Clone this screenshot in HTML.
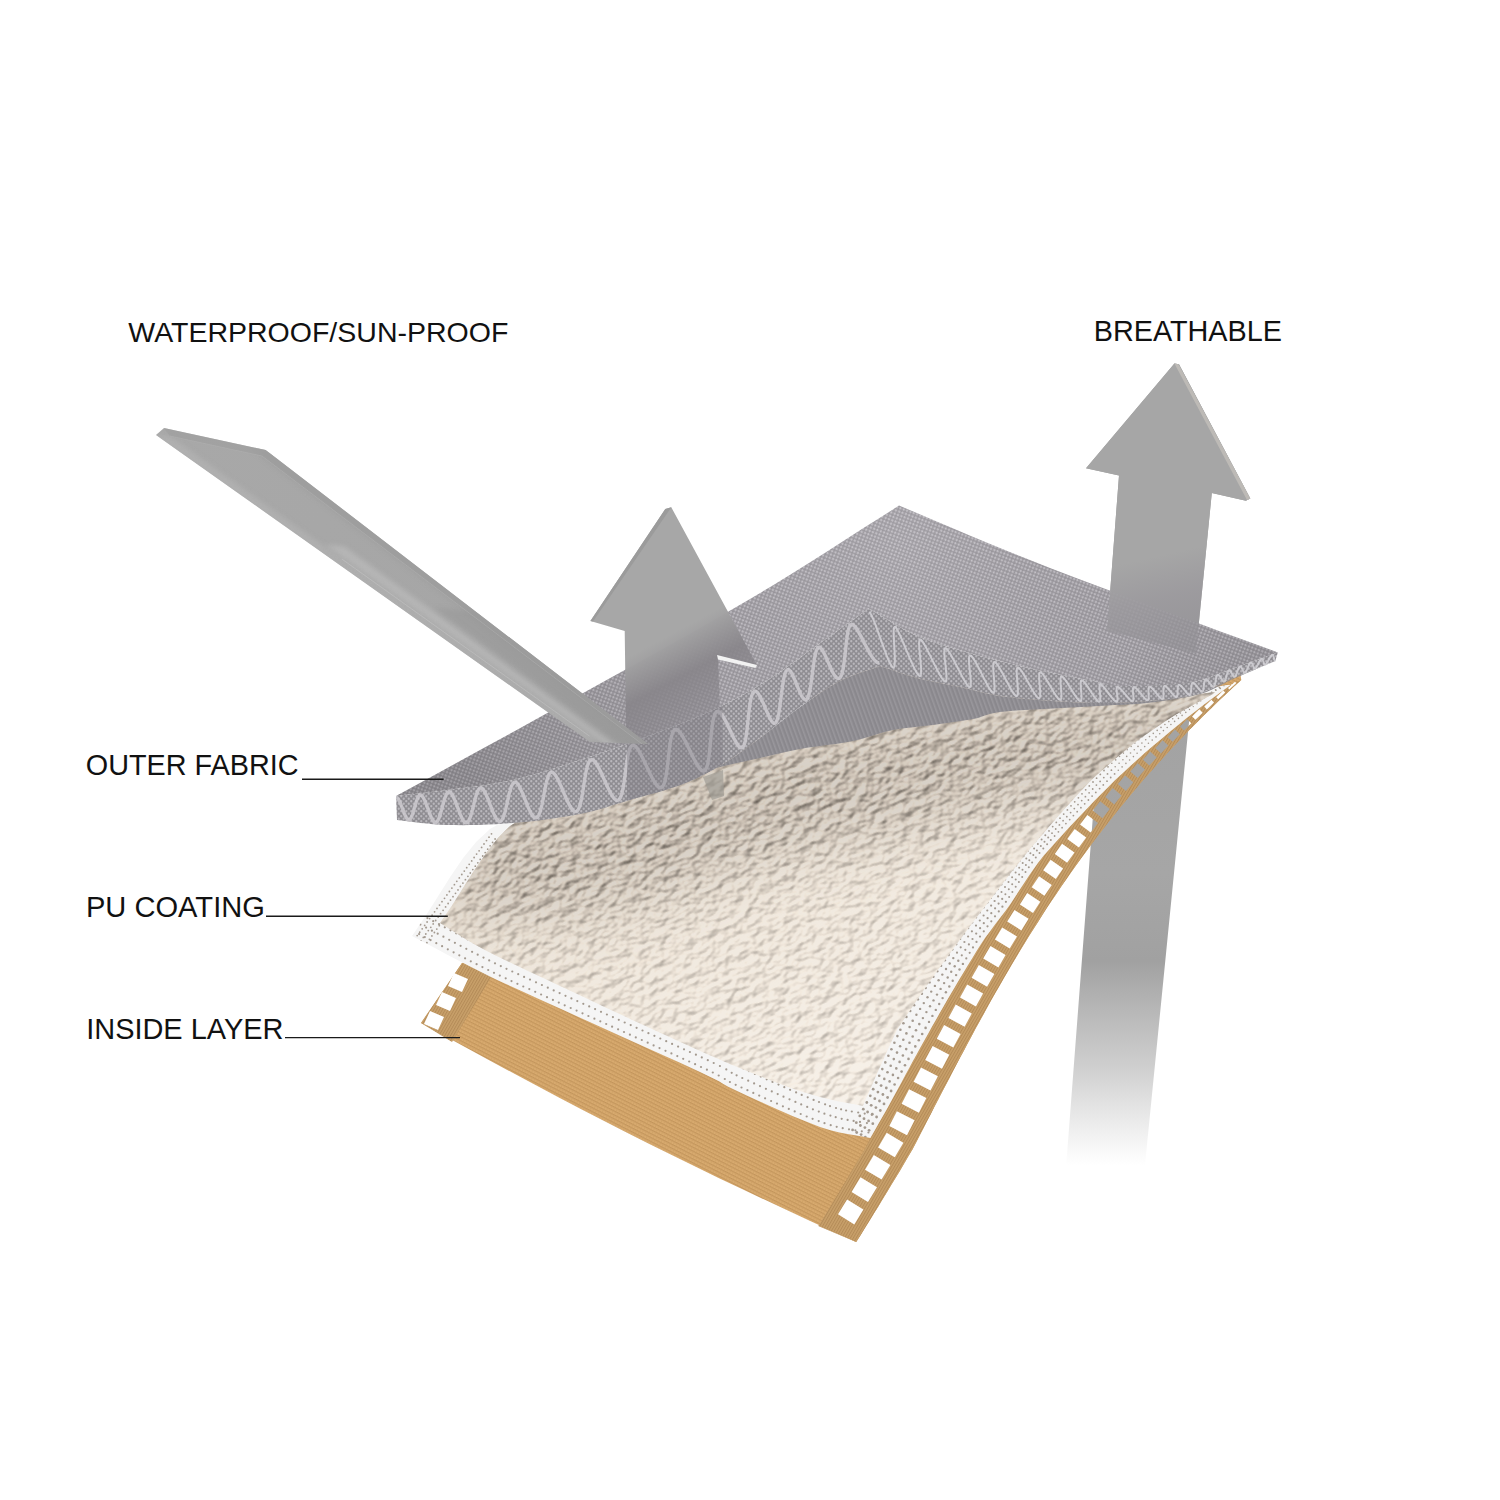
<!DOCTYPE html>
<html><head><meta charset="utf-8"><style>
html,body{margin:0;padding:0;background:#fff;width:1500px;height:1500px;overflow:hidden}
body{position:relative;font-family:"Liberation Sans",sans-serif}
</style></head><body>
<svg width="1500" height="1500" viewBox="0 0 1500 1500" style="position:absolute;left:0;top:0">
<defs>
<linearGradient id="gShaft" gradientUnits="userSpaceOnUse" x1="0" y1="680" x2="0" y2="1165">
 <stop offset="0" stop-color="#a2a2a2"/>
 <stop offset="0.4" stop-color="#a6a6a6"/>
 <stop offset="0.58" stop-color="#a1a1a1"/>
 <stop offset="0.8" stop-color="#a8a8a8" stop-opacity="0.55"/>
 <stop offset="1" stop-color="#b0b0b0" stop-opacity="0"/>
</linearGradient>
<linearGradient id="gBigUp" gradientUnits="userSpaceOnUse" x1="1140" y1="560" x2="1160" y2="650">
 <stop offset="0" stop-color="#a6a6a6" stop-opacity="1"/>
 <stop offset="0.45" stop-color="#9c9a9e" stop-opacity="0.88"/>
 <stop offset="1" stop-color="#918f94" stop-opacity="0.6"/>
</linearGradient>
<linearGradient id="gSmallUp" gradientUnits="userSpaceOnUse" x1="660" y1="640" x2="700" y2="715">
 <stop offset="0" stop-color="#a7a7a7" stop-opacity="1"/>
 <stop offset="0.5" stop-color="#88858a" stop-opacity="0.92"/>
 <stop offset="1" stop-color="#858288" stop-opacity="0.5"/>
</linearGradient>
<linearGradient id="gBar" gradientUnits="userSpaceOnUse" x1="160" y1="430" x2="640" y2="745">
 <stop offset="0" stop-color="#a8a8a8"/>
 <stop offset="0.65" stop-color="#a6a6a6"/>
 <stop offset="1" stop-color="#a0a0a0"/>
</linearGradient>
<linearGradient id="gBeigeShade" gradientUnits="userSpaceOnUse" x1="0" y1="700" x2="0" y2="860">
 <stop offset="0" stop-color="#5a5248" stop-opacity="0.25"/>
 <stop offset="1" stop-color="#5a5248" stop-opacity="0"/>
</linearGradient>
<radialGradient id="gTopLight" gradientUnits="userSpaceOnUse" cx="900" cy="545" r="490">
 <stop offset="0" stop-color="#ffffff" stop-opacity="0.06"/>
 <stop offset="0.5" stop-color="#000000" stop-opacity="0.03"/>
 <stop offset="1" stop-color="#000000" stop-opacity="0.16"/>
</radialGradient>
<pattern id="pDots" patternUnits="userSpaceOnUse" width="5" height="5" patternTransform="rotate(-25)">
 <rect width="5" height="5" fill="#9a979d"/>
 <circle cx="1.25" cy="1.25" r="1.15" fill="#c6c3c9"/>
 <circle cx="3.75" cy="3.75" r="1.15" fill="#c6c3c9"/>
</pattern>
<pattern id="pDotsSide" patternUnits="userSpaceOnUse" width="5" height="5">
 <rect width="5" height="5" fill="#8f8d92"/>
 <circle cx="1.25" cy="1.25" r="1.15" fill="#b9b7bc"/>
 <circle cx="3.75" cy="3.75" r="1.15" fill="#b9b7bc"/>
</pattern>
<pattern id="pUnder" patternUnits="userSpaceOnUse" width="4" height="4" patternTransform="rotate(-20)">
 <rect width="4" height="4" fill="#8a888d"/>
 <rect x="0" y="0" width="1.6" height="4" fill="#99979c"/>
</pattern>
<pattern id="pMesh" patternUnits="userSpaceOnUse" width="5" height="5" patternTransform="rotate(-28)">
 <rect width="5" height="5" fill="#fcfcfc"/>
 <circle cx="2.5" cy="2.5" r="0.75" fill="#a89a8c"/>
</pattern>
<pattern id="pWeave" patternUnits="userSpaceOnUse" width="3" height="3.5" patternTransform="rotate(27)">
 <rect width="3" height="3.5" fill="#d8aa6f"/>
 <rect x="0" y="0" width="3" height="1.2" fill="#c3955c"/>
 <rect x="0" y="0" width="1" height="3.5" fill="#cc9e63" opacity="0.6"/>
</pattern>
<pattern id="pStrip" patternUnits="userSpaceOnUse" width="2.5" height="2.5" patternTransform="rotate(30)">
 <rect width="2.5" height="2.5" fill="#c8a06a"/>
 <rect x="0" y="0" width="1" height="2.5" fill="#b48b58"/>
</pattern>
<filter id="fTex" x="-200" y="-200" width="2000" height="2000" filterUnits="userSpaceOnUse" color-interpolation-filters="sRGB">
 <feTurbulence type="fractalNoise" baseFrequency="0.095 0.13" numOctaves="2" seed="11" result="n"/>
 <feDiffuseLighting in="n" surfaceScale="3.2" diffuseConstant="1.1" lighting-color="#ffffff" result="lit">
  <feDistantLight azimuth="250" elevation="50"/>
 </feDiffuseLighting>
 <feColorMatrix in="lit" type="matrix" values="0.34 0 0 0 0.70  0 0.34 0 0 0.69  0 0 0.34 0 0.68  0 0 0 1 0" result="lit2"/>
 <feBlend in="SourceGraphic" in2="lit2" mode="multiply" result="m"/>
 <feComposite in="m" in2="SourceAlpha" operator="in"/>
</filter>
<linearGradient id="gBeigeV" gradientUnits="userSpaceOnUse" x1="0" y1="690" x2="0" y2="1110">
 <stop offset="0" stop-color="#dcd2c5"/>
 <stop offset="0.3" stop-color="#eee6db"/>
 <stop offset="1" stop-color="#f7f1e9"/>
</linearGradient>
<mask id="mTan" maskUnits="userSpaceOnUse" x="0" y="0" width="1500" height="1500"><rect width="1500" height="1500" fill="#fff"/><path d="M863.4,1209.6 L854.3,1224.4 L838,1214.3 L847.1,1199.5 Z" fill="#000"/><path d="M877,1187.2 L868,1202 L851.6,1191.9 L860.5,1177.2 Z" fill="#000"/><path d="M890.4,1164.9 L881.6,1179.6 L865,1169.7 L873.8,1155 Z" fill="#000"/><path d="M903.4,1142.7 L894.8,1157.3 L878.1,1147.5 L886.7,1132.8 Z" fill="#000"/><path d="M914.6,1120.3 L907,1135.2 L889.3,1126.1 L896.9,1111.2 Z" fill="#000"/><path d="M926.4,1098.1 L918.9,1112.7 L901.6,1103.8 L909.1,1089.2 Z" fill="#000"/><path d="M937.9,1076.3 L930.5,1090.5 L913.6,1081.7 L921,1067.5 Z" fill="#000"/><path d="M949.3,1054.8 L942,1068.8 L925.2,1060 L932.6,1046.1 Z" fill="#000"/><path d="M960.6,1033.9 L953.3,1047.5 L936.8,1038.8 L944.1,1025.1 Z" fill="#000"/><path d="M971.8,1013.5 L964.6,1026.8 L948.4,1018 L955.7,1004.6 Z" fill="#000"/><path d="M983.1,993.5 L975.9,1006.5 L960,997.6 L967.2,984.6 Z" fill="#000"/><path d="M994.4,974 L987.1,986.7 L971.6,977.8 L978.8,965.1 Z" fill="#000"/><path d="M1005.6,955.1 L998.4,967.4 L983.2,958.5 L990.5,946.1 Z" fill="#000"/><path d="M1017,936.6 L1009.7,948.6 L994.9,939.6 L1002.2,927.6 Z" fill="#000"/><path d="M1028.6,918.8 L1021.3,930.4 L1007.2,921.6 L1014.5,910 Z" fill="#000"/><path d="M1040.3,901.7 L1033,912.9 L1019.9,904.4 L1027.2,893.1 Z" fill="#000"/><path d="M1051.8,884.9 L1044.4,895.8 L1031.7,887.2 L1039,876.3 Z" fill="#000"/><path d="M1063.1,868.5 L1055.8,879 L1043.2,870.3 L1050.6,859.7 Z" fill="#000"/><path d="M1074.5,852.6 L1067.1,862.8 L1054.8,853.9 L1062.1,843.7 Z" fill="#000"/><path d="M1086.2,837.5 L1078.9,847.5 L1067.3,838.9 L1074.7,829 Z" fill="#000"/><path d="M1098,823 L1090.7,832.6 L1080,824.5 L1087.4,814.9 Z" fill="#000"/><path d="M1109.8,809 L1102.4,818.3 L1092.7,810.6 L1100.1,801.3 Z" fill="#000"/><path d="M1121.6,795.4 L1114.2,804.4 L1105.3,797.1 L1112.7,788.1 Z" fill="#000"/><path d="M1133.3,782.3 L1125.9,791 L1117.8,784.1 L1125.2,775.4 Z" fill="#000"/><path d="M1145,769.6 L1137.7,778 L1130.3,771.6 L1137.7,763.2 Z" fill="#000"/><path d="M1156.7,757.4 L1149.4,765.5 L1142.9,759.7 L1150.2,751.5 Z" fill="#000"/><path d="M1168.3,745.6 L1161,753.4 L1155.3,748.2 L1162.6,740.3 Z" fill="#000"/><path d="M1179.9,734.2 L1172.6,741.8 L1167.7,737.2 L1175,729.6 Z" fill="#000"/><path d="M1191.3,723.3 L1184.1,730.6 L1180,726.6 L1187.2,719.3 Z" fill="#000"/><path d="M1202.7,712.7 L1195.5,719.8 L1192.1,716.4 L1199.3,709.3 Z" fill="#000"/><path d="M1214,702.5 L1206.9,709.4 L1204.3,706.6 L1211.4,699.7 Z" fill="#000"/><path d="M1225.2,692.6 L1218.2,699.3 L1216.2,697.2 L1223.3,690.6 Z" fill="#000"/><path d="M1236.3,683 L1229.3,689.5 L1228,688.1 L1235,681.7 Z" fill="#000"/><path d="M454,973 L468,979 L462,992 L448,986 Z" fill="#000"/><path d="M442,992 L456,998 L450,1011 L436,1005 Z" fill="#000"/><path d="M430,1011 L444,1017 L438,1030 L424,1024 Z" fill="#000"/></mask><clipPath id="cMesh"><path d="M412,936 L424.9,917.1 L437.6,897.1 L450.2,877 L463.1,858.1 L476.3,841.7 L490,829 L504.2,820.9 L518.6,816.6 L533.4,814.8 L548.6,814 L564.1,812.9 L580,810 L596.3,805.8 L613.1,801.5 L630.2,796.8 L647.7,791.5 L665.3,785.3 L683,778 L701.4,769 L720.7,758.6 L740.1,747.2 L759.1,735.6 L777,724.3 L793,714 L806.4,703.8 L817.4,693.1 L827.3,682.8 L837.3,673.6 L848.4,666.4 L862,662 L877.6,661.2 L894.3,663.6 L912.1,667.9 L931.4,673.1 L952.3,678.2 L975,682 L1001.1,685 L1030.8,688.1 L1062.1,691 L1093.1,693.5 L1121.7,695.2 L1146,696 L1165.3,695.5 L1181.2,693.9 L1194.7,691.6 L1207,689 L1219.4,686.3 L1232.9,684 L1231.8,684 L1222.4,690.9 L1213.2,697.7 L1204.1,704.6 L1195.2,711.4 L1186.4,718.3 L1177.9,725.2 L1169.6,732 L1161.4,738.9 L1153.2,745.7 L1145.3,752.6 L1137.6,759.5 L1130.1,766.3 L1122.6,773.2 L1115.2,780.1 L1108.3,786.9 L1101.5,793.8 L1094.7,800.6 L1088.1,807.5 L1081.5,814.4 L1075,821.2 L1068.6,828.1 L1062.3,834.9 L1056.1,841.8 L1049.9,848.7 L1043.8,855.5 L1038.3,862.4 L1033.5,869.2 L1028.8,876.1 L1024.2,883 L1019.7,889.8 L1015.2,896.7 L1010.8,903.5 L1005.8,910.4 L1000.6,917.3 L995.4,924.1 L990.3,931 L985.2,937.8 L980.6,944.7 L976.3,951.6 L972.1,958.4 L967.9,965.3 L963.7,972.2 L959.6,979 L955.5,985.9 L951.5,992.7 L947.5,999.6 L943.5,1006.5 L939.6,1013.3 L935.7,1020.2 L931.8,1027 L928,1033.9 L924.2,1040.8 L920.4,1047.6 L916.6,1054.5 L912.8,1061.3 L909.1,1068.2 L905.4,1075.1 L901.7,1081.9 L898,1088.8 L894.3,1095.6 L890.5,1102.5 L886.7,1109.4 L882.8,1116.2 L878.9,1123.1 L875,1129.9 L871.1,1136.8 L870.4,1138 L862.4,1136.5 L854.9,1135.3 L847.4,1134.1 L839.4,1132.6 L830.4,1130.3 L820,1127 L807.3,1122.1 L792.4,1115.9 L776.5,1108.9 L760.9,1101.9 L746.7,1095.4 L735,1090 L727.7,1086.5 L724.2,1084.6 L722.1,1083.2 L719,1081.3 L712.4,1077.9 L700,1072 L679.5,1062.6 L652.6,1050.4 L622.1,1036.7 L591.3,1022.8 L563.3,1010.1 L541,1000 L525.2,992.8 L513.7,987.5 L504.8,983.5 L497.2,979.9 L489.4,976.2 L480,971.5 L469.1,966 L457.9,960.2 L446.4,954.2 L434.9,948.1 L423.4,942 L412,936 Z"/></clipPath><clipPath id="cBeige"><path d="M440,923 L451.7,905.9 L463.3,887.6 L475,869.3 L486.7,852.2 L498.3,837.4 L510,826 L521.3,819.1 L532.1,815.9 L542.9,814.9 L554.2,814.9 L566.4,814.4 L580,812 L596,807.6 L614.2,802.2 L633.4,796.4 L652.1,790.4 L669.1,784.8 L683,780 L693,776.2 L699.9,773.3 L705.1,770.8 L709.8,768 L715.3,764.6 L723,760 L732.9,754.1 L744.1,747.4 L756.2,740 L768.6,732.1 L781,724.1 L793,716 L804,707 L814.4,696.6 L824.8,686 L835.8,676.3 L848,668.6 L862,664 L877.6,663.2 L894.3,665.6 L912.1,669.9 L931.4,675.1 L952.3,680.2 L975,684 L1001.3,686.9 L1031.5,689.9 L1063.2,692.6 L1094.4,695 L1122.7,696.9 L1146,698 L1163.4,698.2 L1176.6,697.5 L1186.9,696.2 L1195.8,694.7 L1204.7,693.2 L1215,692 L1213,694 L1200.3,701 L1187.6,708 L1175.1,714.9 L1164.3,721.9 L1154,728.9 L1143.7,735.9 L1134.2,742.9 L1125.9,749.9 L1117.7,756.8 L1109.6,763.8 L1101.6,770.8 L1093.8,777.8 L1086.8,784.8 L1080.2,791.8 L1073.8,798.7 L1067.5,805.7 L1061.2,812.7 L1055.1,819.7 L1049,826.7 L1043.1,833.7 L1037.2,840.6 L1031.3,847.6 L1025.6,854.6 L1020,861.6 L1014.4,868.6 L1008.9,875.6 L1003.5,882.5 L998.1,889.5 L992.8,896.5 L987.4,903.5 L982,910.5 L976.6,917.5 L971.3,924.4 L966.1,931.4 L960.9,938.4 L955.7,945.4 L950.6,952.4 L945.6,959.4 L940.6,966.3 L935.6,973.3 L930.7,980.3 L925.8,987.3 L921,994.3 L916.2,1001.3 L911.5,1008.2 L906.7,1015.2 L902.1,1022.2 L897.4,1029.2 L894,1036.2 L890.8,1043.2 L887.6,1050.1 L884.5,1057.1 L881.4,1064.1 L878.2,1071.1 L875.1,1078.1 L872.1,1085.1 L869,1092 L865.9,1099 L862.9,1106 L855.8,1104.6 L848.7,1103.2 L841.6,1101.9 L834.4,1100.4 L827.3,1098.8 L820,1097 L813,1095 L806.3,1093 L799.5,1090.9 L792.3,1088.4 L784.3,1085.5 L775,1082 L765,1078.2 L754.6,1074.1 L743.4,1069.6 L730.9,1064.4 L716.6,1058.3 L700,1051 L679.7,1041.8 L655.8,1030.8 L630.1,1018.9 L604.4,1006.9 L580.4,995.6 L560,986 L543.1,978.1 L528.4,971.2 L515.4,965.1 L503.8,959.5 L493.1,954.2 L483,949 L473.9,944 L466.1,939.5 L459.4,935.3 L453.1,931.3 L446.8,927.2 L440,923 Z"/></clipPath><filter id="fBlur30" x="-30%" y="-60%" width="160%" height="220%"><feGaussianBlur stdDeviation="28"/></filter><mask id="mShade" maskUnits="userSpaceOnUse" x="0" y="0" width="1500" height="1500"><path d="M437.5,804.6 L446.7,805 L456.8,805.2 L467.5,805.1 L478.8,804.9 L490.2,804.4 L501.7,803.8 L513,803 L524.3,802 L535.9,800.7 L547.5,799.2 L558.9,797.6 L569.8,795.9 L580,794 L589.3,792 L597.8,789.8 L605.9,787.4 L613.7,785 L621.7,782.5 L630,780 L638.8,777.5 L647.9,775 L657.1,772.4 L666.2,769.7 L674.9,766.9 L683,764 L690,756 L690.5,761 L694.9,754.5 L697.4,757.9 L699.6,753 L704.4,751.5 L709.3,750 L714.4,748.5 L720,747 L726.1,745.5 L732.6,744 L739.4,742.5 L746.3,741 L753.2,739.5 L760,738 L766.5,736.5 L772.9,735 L779.2,733.4 L785.7,731.9 L792.6,730.4 L800,729 L808.2,727.6 L817.2,726.4 L826.5,725.1 L835.8,723.9 L844.8,722.5 L853,721 L860.4,719.3 L867.3,717.3 L873.8,715.3 L880.1,713.3 L886.5,711.5 L893,710 L899.7,708.8 L906.3,707.9 L913,707.2 L919.7,706.5 L926.3,705.8 L933,705 L939.8,704.1 L946.8,703.1 L953.8,702.1 L960.6,701.1 L967.1,700.1 L973,699 L978,697.9 L982,696.6 L985.7,695.3 L989.6,694.1 L994.1,693 L1000,692 L1007.3,691.2 L1015.7,690.6 L1024.8,690 L1034.3,689.5 L1043.8,689 L1053,688.5 L1062.1,688 L1071.4,687.4 L1080.8,686.9 L1090,686.4 L1098.8,686 L1107,685.5 L1114.3,685.1 L1120.9,684.9 L1127.1,684.6 L1133.2,684.3 L1139.7,683.8 L1147,683 L1155.3,681.9 L1164.4,680.7 L1173.9,679.3 L1183.3,677.7 L1192.2,675.9 L1200,674 L1206.5,671.9 L1212.1,669.6 L1217.2,667.1 L1222.1,664.4 L1227.2,661.7 L1233,659 L1239.5,656.2 L1246.4,653.2 L1253.6,650.2 L1260.9,647.1 L1268.1,644 L1275.3,641 L1300.3,756 L1293.1,759 L1285.9,762.1 L1278.6,765.2 L1271.4,768.2 L1264.5,771.2 L1258,774 L1252.2,776.7 L1247.1,779.4 L1242.2,782.1 L1237.1,784.6 L1231.5,786.9 L1225,789 L1217.2,790.9 L1208.3,792.7 L1198.9,794.3 L1189.4,795.7 L1180.3,796.9 L1172,798 L1164.7,798.8 L1158.2,799.3 L1152.1,799.6 L1145.9,799.9 L1139.3,800.1 L1132,800.5 L1123.8,801 L1115,801.4 L1105.8,801.9 L1096.4,802.4 L1087.1,803 L1078,803.5 L1068.8,804 L1059.3,804.5 L1049.8,805 L1040.7,805.6 L1032.3,806.2 L1025,807 L1019.1,808 L1014.6,809.1 L1010.7,810.3 L1007,811.6 L1003,812.9 L998,814 L992.1,815.1 L985.6,816.1 L978.8,817.1 L971.8,818.1 L964.8,819.1 L958,820 L951.3,820.8 L944.7,821.5 L938,822.2 L931.3,822.9 L924.7,823.8 L918,825 L911.5,826.5 L905.1,828.3 L898.8,830.3 L892.3,832.3 L885.4,834.3 L878,836 L869.8,837.5 L860.8,838.9 L851.5,840.1 L842.2,841.4 L833.2,842.6 L825,844 L817.6,845.4 L810.7,846.9 L804.2,848.4 L797.9,850 L791.5,851.5 L785,853 L778.2,854.5 L771.3,856 L764.4,857.5 L757.6,859 L751.1,860.5 L745,862 L739.4,863.5 L734.3,865 L729.4,866.5 L724.6,868 L722.4,872.9 L719.9,869.5 L715.5,876 L715,871 L708,879 L699.9,881.9 L691.2,884.7 L682.1,887.4 L672.9,890 L663.8,892.5 L655,895 L646.7,897.5 L638.7,900 L630.9,902.4 L622.8,904.8 L614.3,907 L605,909 L594.8,910.9 L583.9,912.6 L572.5,914.2 L560.9,915.7 L549.3,917 L538,918 L526.7,918.8 L515.2,919.4 L503.8,919.9 L492.5,920.1 L481.8,920.2 L471.7,920 L462.5,919.6 Z" fill="#fff" filter="url(#fBlur30)"/></mask><filter id="fTex2" x="-200" y="-200" width="2000" height="2000" filterUnits="userSpaceOnUse" color-interpolation-filters="sRGB">
 <feTurbulence type="fractalNoise" baseFrequency="0.095 0.13" numOctaves="2" seed="11" result="n"/>
 <feDiffuseLighting in="n" surfaceScale="3.2" diffuseConstant="1.1" lighting-color="#ffffff" result="lit">
  <feDistantLight azimuth="250" elevation="50"/>
 </feDiffuseLighting>
 <feColorMatrix in="lit" type="matrix" values="0.62 0 0 0 0.42  0 0.62 0 0 0.40  0 0 0.62 0 0.38  0 0 0 1 0" result="lit2"/>
 <feBlend in="SourceGraphic" in2="lit2" mode="multiply" result="m"/>
 <feComposite in="m" in2="SourceAlpha" operator="in"/>
</filter><clipPath id="cFront"><path d="M0,0 L1500,0 L1500,652 L1277.8,652.5 L1272.2,654.5 L1266.6,656.5 L1261,658.6 L1255.4,660.6 L1249.8,662.6 L1244.2,664.6 L1238.6,666.6 L1233,668.5 L1227.5,670.5 L1222.3,672.5 L1217.2,674.6 L1212,676.6 L1206.6,678.5 L1200.9,680.2 L1194.7,681.7 L1188,683 L1180.3,684 L1171.7,684.8 L1162.5,685.3 L1153.1,685.8 L1143.8,686 L1134.9,686.1 L1126.9,686.1 L1120,686 L1114.6,685.7 L1110.3,685.3 L1107,684.8 L1104,684.1 L1101.2,683.2 L1098.1,682.3 L1094.3,681.3 L1089.4,680.3 L1083.5,679.2 L1076.9,677.9 L1069.8,676.5 L1062.4,675.1 L1054.7,673.6 L1047,672 L1039.4,670.4 L1032,668.8 L1024.8,667.2 L1017.7,665.5 L1010.5,663.8 L1003.4,662.1 L996.2,660.3 L989,658.4 L981.9,656.5 L974.7,654.5 L967.5,652.4 L960.2,650.4 L952.8,648.2 L945.5,646 L938.2,643.7 L931,641.3 L924.1,638.7 L917.3,635.9 L910.8,632.9 L904.5,629.7 L898.4,626.3 L892.4,622.8 L886.5,619.2 L880.6,615.6 L874.6,612.1 L868.6,608.6 L862.6,612.9 L856.6,617.2 L850.6,621.5 L844.6,625.8 L838.6,630.1 L832.5,634.4 L826.3,638.8 L820,643.3 L813.6,647.9 L807,652.6 L800.4,657.5 L793.7,662.3 L786.9,667.1 L780.2,671.9 L773.4,676.4 L766.7,680.7 L760.1,684.8 L753.6,688.7 L747.1,692.4 L740.7,696 L734.1,699.6 L727.3,703 L720.3,706.5 L713,710 L705.3,713.5 L697.3,716.9 L689.1,720.4 L680.7,723.7 L672.1,727.1 L663.6,730.3 L655.1,733.5 L646.7,736.7 L638.4,739.8 L630.1,742.8 L621.7,745.8 L613.4,748.8 L605.1,751.7 L596.7,754.5 L588.4,757.3 L580,760 L571.6,762.7 L563.3,765.5 L554.9,768.2 L546.5,770.8 L538.1,773.4 L529.7,775.8 L521.3,778 L513,780 L504.6,781.8 L496,783.3 L487.4,784.7 L478.8,785.9 L470.4,787 L462.2,788 L454.2,789 L446.7,790 L439.6,790.9 L432.9,791.8 L426.5,792.5 L420.4,793.2 L414.3,793.9 L408.3,794.6 L402.2,795.3 L396,796 L0,796 Z"/></clipPath><clipPath id="cBand"><path d="M396,796 L402.2,795.3 L408.3,794.6 L414.3,793.9 L420.4,793.2 L426.5,792.5 L432.9,791.8 L439.6,790.9 L446.7,790 L454.2,789 L462.2,788 L470.4,787 L478.8,785.9 L487.4,784.7 L496,783.3 L504.6,781.8 L513,780 L521.3,778 L529.7,775.8 L538.1,773.4 L546.5,770.8 L554.9,768.2 L563.3,765.5 L571.6,762.7 L580,760 L588.4,757.3 L596.7,754.5 L605.1,751.7 L613.4,748.8 L621.7,745.8 L630.1,742.8 L638.4,739.8 L646.7,736.7 L655.1,733.5 L663.6,730.3 L672.1,727.1 L680.7,723.7 L689.1,720.4 L697.3,716.9 L705.3,713.5 L713,710 L720.3,706.5 L727.3,703 L734.1,699.6 L740.7,696 L747.1,692.4 L753.6,688.7 L760.1,684.8 L766.7,680.7 L773.4,676.4 L780.2,671.9 L786.9,667.1 L793.7,662.3 L800.4,657.5 L807,652.6 L813.6,647.9 L820,643.3 L826.3,638.8 L832.5,634.4 L838.6,630.1 L844.6,625.8 L850.6,621.5 L856.6,617.2 L862.6,612.9 L868.6,608.6 L874.6,612.1 L880.6,615.6 L886.5,619.2 L892.4,622.8 L898.4,626.3 L904.5,629.7 L910.8,632.9 L917.3,635.9 L924.1,638.7 L931,641.3 L938.2,643.7 L945.5,646 L952.8,648.2 L960.2,650.4 L967.5,652.4 L974.7,654.5 L981.9,656.5 L989,658.4 L996.2,660.3 L1003.4,662.1 L1010.5,663.8 L1017.7,665.5 L1024.8,667.2 L1032,668.8 L1039.4,670.4 L1047,672 L1054.7,673.6 L1062.4,675.1 L1069.8,676.5 L1076.9,677.9 L1083.5,679.2 L1089.4,680.3 L1094.3,681.3 L1098.1,682.3 L1101.2,683.2 L1104,684.1 L1107,684.8 L1110.3,685.3 L1114.6,685.7 L1120,686 L1126.9,686.1 L1134.9,686.1 L1143.8,686 L1153.1,685.8 L1162.5,685.3 L1171.7,684.8 L1180.3,684 L1188,683 L1194.7,681.7 L1200.9,680.2 L1206.6,678.5 L1212,676.6 L1217.2,674.6 L1222.3,672.5 L1227.5,670.5 L1233,668.5 L1238.6,666.6 L1244.2,664.6 L1249.8,662.6 L1255.4,660.6 L1261,658.6 L1266.6,656.5 L1272.2,654.5 L1277.8,652.5 L1275.3,661 L1269.9,663.1 L1264.5,665.3 L1259,667.5 L1253.6,669.6 L1248.2,671.8 L1242.9,673.9 L1237.8,676 L1233,678 L1228.5,680 L1224.3,682.1 L1220.3,684.1 L1216.4,686.1 L1212.5,688 L1208.5,689.9 L1204.4,691.5 L1200,693 L1195.4,694.3 L1190.8,695.4 L1186.1,696.4 L1181.2,697.2 L1176.3,698 L1171.1,698.7 L1165.7,699.4 L1160,700 L1154,700.6 L1147.7,701.1 L1141.1,701.6 L1134.4,702.1 L1127.5,702.4 L1120.6,702.7 L1113.8,702.9 L1107,703 L1100.3,703 L1093.5,702.9 L1086.8,702.7 L1080,702.5 L1073.2,702.2 L1066.5,701.8 L1059.7,701.4 L1053,701 L1046.2,700.5 L1039.4,700.1 L1032.5,699.5 L1025.6,698.9 L1018.9,698.3 L1012.3,697.6 L1006,696.8 L1000,696 L994.4,695.1 L989.1,694 L984.2,692.9 L979.4,691.8 L974.6,690.6 L969.9,689.3 L965,688.2 L960,687 L954.8,685.9 L949.4,684.8 L943.9,683.8 L938.5,682.7 L933,681.6 L927.7,680.5 L922.4,679.3 L917.3,678 L912.4,676.6 L907.6,675.2 L902.9,673.7 L898.3,672.2 L893.8,670.6 L889.2,669.1 L884.6,667.5 L880,666 L875,667.8 L870,669.5 L865,671.1 L860,672.8 L855,674.6 L850,676.5 L845,678.6 L840,681 L835,683.7 L830,686.6 L825,689.7 L820,693 L815,696.4 L810,699.9 L805,703.4 L800,707 L795,710.7 L789.9,714.5 L784.9,718.5 L779.8,722.5 L774.8,726.5 L769.8,730.5 L764.9,734.3 L760,738 L755.3,741.5 L750.6,745 L746,748.4 L741.5,751.7 L737,754.9 L732.4,758 L727.7,761.1 L723,764 L718.2,766.8 L713.5,769.5 L708.8,772.1 L704,774.6 L699.1,777.1 L694,779.4 L688.6,781.7 L683,784 L677,786.2 L670.6,788.3 L663.9,790.4 L657.1,792.4 L650.2,794.3 L643.3,796.2 L636.6,798.1 L630,800 L623.7,801.9 L617.7,803.8 L611.8,805.6 L605.9,807.4 L599.9,809.2 L593.6,810.9 L587,812.5 L580,814 L572.4,815.4 L564.4,816.8 L556.1,818 L547.5,819.2 L538.8,820.4 L530.1,821.4 L521.5,822.2 L513,823 L504.6,823.6 L496,824.2 L487.4,824.6 L478.8,824.9 L470.3,825.1 L462.1,825.2 L454.2,825.1 L446.7,825 L439.7,824.7 L433.1,824.2 L426.8,823.6 L420.8,822.9 L414.9,822.2 L409,821.4 L403.1,820.7 L397,820 Z"/></clipPath><clipPath id="cBig"><path d="M1000,300 L1400,300 L1400,657 L1195.3,653.6 L1109.5,631.6 L1000,630 Z"/></clipPath><filter id="fBlur3" x="-50%" y="-50%" width="200%" height="200%"><feGaussianBlur stdDeviation="2.5"/></filter><clipPath id="cBar"><path d="M164,428 L265.6,450 L648,744 L590,742 L156,435 Z"/></clipPath></defs>
<rect width="1500" height="1500" fill="#ffffff"/>
<path d="M1174.4,363.6 L1179,364.3 L1250.3,498.5 L1245.9,500.7 L1211.8,493 L1143,1185 L1066,1168 L1119,475.4 L1086,468.3 Z" fill="url(#gShaft)"/>
<g mask="url(#mTan)"><path d="M462,963 L421,1023 L443.9,1035.5 L466.8,1048 L489.7,1060.4 L512.6,1072.8 L535.5,1085 L558.4,1097.2 L581.3,1109.2 L604.2,1121 L627.1,1132.7 L649.9,1144.2 L672.8,1155.6 L695.7,1166.8 L718.6,1177.9 L741.5,1188.8 L764.4,1199.6 L787.3,1210.3 L810.2,1220.9 L833.1,1231.5 L856,1242 L856.2,1242 L860.7,1234.9 L865.1,1227.8 L869.5,1220.7 L873.9,1213.5 L878.3,1206.4 L882.6,1199.3 L886.9,1192.2 L891.2,1185.1 L895.5,1178 L899.8,1170.9 L904,1163.7 L908.2,1156.6 L912.4,1149.5 L916.1,1142.4 L919.8,1135.3 L923.4,1128.2 L927.1,1121.1 L930.8,1113.9 L934.4,1106.8 L938.1,1099.7 L941.8,1092.6 L945.5,1085.5 L949.2,1078.4 L952.9,1071.3 L956.6,1064.2 L960.4,1057 L964.2,1049.9 L968,1042.8 L971.8,1035.7 L975.6,1028.6 L979.5,1021.5 L983.4,1014.4 L987.3,1007.2 L991.3,1000.1 L995.3,993 L999.4,985.9 L1003.5,978.8 L1007.6,971.7 L1011.8,964.6 L1016,957.4 L1020.3,950.3 L1024.6,943.2 L1029,936.1 L1033.5,929 L1038,921.9 L1042.5,914.8 L1047.1,907.6 L1051.8,900.5 L1056.6,893.4 L1061.4,886.3 L1066.3,879.2 L1071.3,872.1 L1076.3,865 L1081.5,857.8 L1086.7,850.7 L1092,843.6 L1097.3,836.5 L1102.8,829.4 L1108.4,822.3 L1114,815.2 L1119.7,808.1 L1125.6,800.9 L1131.5,793.8 L1137.5,786.7 L1143.6,779.6 L1149.9,772.5 L1156.2,765.4 L1162.7,758.3 L1169.2,751.1 L1175.9,744 L1182.7,736.9 L1189.5,729.8 L1196.6,722.7 L1203.7,715.6 L1211,708.5 L1218.3,701.3 L1225.9,694.2 L1233.5,687.1 L1241.3,680 L1240,672 L900,820 L600,905 Z" fill="url(#pWeave)"/><path d="M1241.3,680 L1233.5,687.1 L1225.9,694.2 L1218.3,701.3 L1211,708.5 L1203.7,715.6 L1196.6,722.7 L1189.5,729.8 L1182.7,736.9 L1175.9,744 L1169.2,751.1 L1162.7,758.3 L1156.2,765.4 L1149.9,772.5 L1143.6,779.6 L1137.5,786.7 L1131.5,793.8 L1125.6,800.9 L1119.7,808.1 L1114,815.2 L1108.4,822.3 L1102.8,829.4 L1097.3,836.5 L1092,843.6 L1086.7,850.7 L1081.5,857.8 L1076.3,865 L1071.3,872.1 L1066.3,879.2 L1061.4,886.3 L1056.6,893.4 L1051.8,900.5 L1047.1,907.6 L1042.5,914.8 L1038,921.9 L1033.5,929 L1029,936.1 L1024.6,943.2 L1020.3,950.3 L1016,957.4 L1011.8,964.6 L1007.6,971.7 L1003.5,978.8 L999.4,985.9 L995.3,993 L991.3,1000.1 L987.3,1007.2 L983.4,1014.4 L979.5,1021.5 L975.6,1028.6 L971.8,1035.7 L968,1042.8 L964.2,1049.9 L960.4,1057 L956.6,1064.2 L952.9,1071.3 L949.2,1078.4 L945.5,1085.5 L941.8,1092.6 L938.1,1099.7 L934.4,1106.8 L930.8,1113.9 L927.1,1121.1 L923.4,1128.2 L919.8,1135.3 L916.1,1142.4 L912.4,1149.5 L908.2,1156.6 L904,1163.7 L899.8,1170.9 L895.5,1178 L891.2,1185.1 L886.9,1192.2 L882.6,1199.3 L878.3,1206.4 L873.9,1213.5 L869.5,1220.7 L865.1,1227.8 L860.7,1234.9 L856.2,1242 L818.2,1226 L822.5,1219.1 L826.7,1212.3 L830.9,1205.4 L835.1,1198.6 L839.2,1191.7 L843.4,1184.8 L847.5,1178 L851.6,1171.1 L855.7,1164.3 L859.8,1157.4 L863.9,1150.5 L867.5,1143.7 L871.1,1136.8 L875,1129.9 L878.9,1123.1 L882.8,1116.2 L886.7,1109.4 L890.5,1102.5 L894.3,1095.6 L898,1088.8 L901.7,1081.9 L905.4,1075.1 L909.1,1068.2 L912.8,1061.3 L916.6,1054.5 L920.4,1047.6 L924.2,1040.8 L928,1033.9 L931.8,1027 L935.7,1020.2 L939.6,1013.3 L943.5,1006.5 L947.5,999.6 L951.5,992.7 L955.5,985.9 L959.6,979 L963.7,972.2 L967.9,965.3 L972.1,958.4 L976.3,951.6 L980.6,944.7 L985.2,937.8 L990.3,931 L995.4,924.1 L1000.6,917.3 L1005.8,910.4 L1010.8,903.5 L1015.2,896.7 L1019.7,889.8 L1024.2,883 L1028.8,876.1 L1033.5,869.2 L1038.3,862.4 L1043.8,855.5 L1049.9,848.7 L1056.1,841.8 L1062.3,834.9 L1068.6,828.1 L1075,821.2 L1081.5,814.4 L1088.1,807.5 L1094.7,800.6 L1101.5,793.8 L1108.3,786.9 L1115.2,780.1 L1122.6,773.2 L1130.1,766.3 L1137.6,759.5 L1145.3,752.6 L1153.2,745.7 L1161.4,738.9 L1169.6,732 L1177.9,725.2 L1186.4,718.3 L1195.2,711.4 L1204.1,704.6 L1213.2,697.7 L1222.4,690.9 L1231.8,684 Z" fill="url(#pStrip)"/><path d="M462,963 L492,976 L452,1042 L421,1023 Z" fill="url(#pStrip)"/></g>
<path d="M412,936 L424.9,917.1 L437.6,897.1 L450.2,877 L463.1,858.1 L476.3,841.7 L490,829 L504.2,820.9 L518.6,816.6 L533.4,814.8 L548.6,814 L564.1,812.9 L580,810 L596.3,805.8 L613.1,801.5 L630.2,796.8 L647.7,791.5 L665.3,785.3 L683,778 L701.4,769 L720.7,758.6 L740.1,747.2 L759.1,735.6 L777,724.3 L793,714 L806.4,703.8 L817.4,693.1 L827.3,682.8 L837.3,673.6 L848.4,666.4 L862,662 L877.6,661.2 L894.3,663.6 L912.1,667.9 L931.4,673.1 L952.3,678.2 L975,682 L1001.1,685 L1030.8,688.1 L1062.1,691 L1093.1,693.5 L1121.7,695.2 L1146,696 L1165.3,695.5 L1181.2,693.9 L1194.7,691.6 L1207,689 L1219.4,686.3 L1232.9,684 L1231.8,684 L1222.4,690.9 L1213.2,697.7 L1204.1,704.6 L1195.2,711.4 L1186.4,718.3 L1177.9,725.2 L1169.6,732 L1161.4,738.9 L1153.2,745.7 L1145.3,752.6 L1137.6,759.5 L1130.1,766.3 L1122.6,773.2 L1115.2,780.1 L1108.3,786.9 L1101.5,793.8 L1094.7,800.6 L1088.1,807.5 L1081.5,814.4 L1075,821.2 L1068.6,828.1 L1062.3,834.9 L1056.1,841.8 L1049.9,848.7 L1043.8,855.5 L1038.3,862.4 L1033.5,869.2 L1028.8,876.1 L1024.2,883 L1019.7,889.8 L1015.2,896.7 L1010.8,903.5 L1005.8,910.4 L1000.6,917.3 L995.4,924.1 L990.3,931 L985.2,937.8 L980.6,944.7 L976.3,951.6 L972.1,958.4 L967.9,965.3 L963.7,972.2 L959.6,979 L955.5,985.9 L951.5,992.7 L947.5,999.6 L943.5,1006.5 L939.6,1013.3 L935.7,1020.2 L931.8,1027 L928,1033.9 L924.2,1040.8 L920.4,1047.6 L916.6,1054.5 L912.8,1061.3 L909.1,1068.2 L905.4,1075.1 L901.7,1081.9 L898,1088.8 L894.3,1095.6 L890.5,1102.5 L886.7,1109.4 L882.8,1116.2 L878.9,1123.1 L875,1129.9 L871.1,1136.8 L870.4,1138 L862.4,1136.5 L854.9,1135.3 L847.4,1134.1 L839.4,1132.6 L830.4,1130.3 L820,1127 L807.3,1122.1 L792.4,1115.9 L776.5,1108.9 L760.9,1101.9 L746.7,1095.4 L735,1090 L727.7,1086.5 L724.2,1084.6 L722.1,1083.2 L719,1081.3 L712.4,1077.9 L700,1072 L679.5,1062.6 L652.6,1050.4 L622.1,1036.7 L591.3,1022.8 L563.3,1010.1 L541,1000 L525.2,992.8 L513.7,987.5 L504.8,983.5 L497.2,979.9 L489.4,976.2 L480,971.5 L469.1,966 L457.9,960.2 L446.4,954.2 L434.9,948.1 L423.4,942 L412,936 Z" fill="#f5f5f5"/>
<g clip-path="url(#cMesh)" fill="#8f8376" opacity="0.8"><circle cx="1226.4" cy="681.7" r="0.7"/><circle cx="1222.8" cy="684.4" r="0.7"/><circle cx="1219.1" cy="687.1" r="0.7"/><circle cx="1215.4" cy="689.8" r="0.7"/><circle cx="1211.8" cy="692.6" r="0.7"/><circle cx="1208.1" cy="695.3" r="0.7"/><circle cx="1204.4" cy="698.1" r="0.7"/><circle cx="1200.7" cy="700.9" r="0.7"/><circle cx="1197" cy="703.8" r="0.7"/><circle cx="1193.3" cy="706.6" r="0.7"/><circle cx="1189.5" cy="709.5" r="0.7"/><circle cx="1185.8" cy="712.4" r="0.8"/><circle cx="1182.1" cy="715.4" r="0.8"/><circle cx="1178.4" cy="718.4" r="0.8"/><circle cx="1174.6" cy="721.4" r="0.8"/><circle cx="1170.9" cy="724.5" r="0.8"/><circle cx="1167.2" cy="727.5" r="0.8"/><circle cx="1163.4" cy="730.6" r="0.8"/><circle cx="1159.7" cy="733.8" r="0.8"/><circle cx="1156" cy="736.9" r="0.8"/><circle cx="1152.2" cy="740.1" r="0.8"/><circle cx="1148.4" cy="743.3" r="0.8"/><circle cx="1144.7" cy="746.6" r="0.8"/><circle cx="1140.9" cy="749.9" r="0.8"/><circle cx="1137.1" cy="753.2" r="0.8"/><circle cx="1133.4" cy="756.6" r="0.8"/><circle cx="1129.6" cy="760" r="0.8"/><circle cx="1125.9" cy="763.4" r="0.8"/><circle cx="1122.1" cy="766.9" r="0.8"/><circle cx="1118.3" cy="770.3" r="0.8"/><circle cx="1114.6" cy="773.9" r="0.9"/><circle cx="1110.7" cy="777.5" r="0.9"/><circle cx="1107" cy="781.2" r="0.9"/><circle cx="1103.3" cy="784.9" r="0.9"/><circle cx="1099.6" cy="788.6" r="0.9"/><circle cx="1095.8" cy="792.4" r="0.9"/><circle cx="1092.1" cy="796.1" r="0.9"/><circle cx="1088.4" cy="800" r="0.9"/><circle cx="1084.7" cy="803.8" r="0.9"/><circle cx="1080.9" cy="807.7" r="0.9"/><circle cx="1077.2" cy="811.7" r="0.9"/><circle cx="1073.4" cy="815.6" r="0.9"/><circle cx="1069.7" cy="819.6" r="0.9"/><circle cx="1065.9" cy="823.6" r="0.9"/><circle cx="1062.1" cy="827.7" r="0.9"/><circle cx="1058.4" cy="831.8" r="0.9"/><circle cx="1054.6" cy="836" r="0.9"/><circle cx="1050.8" cy="840.1" r="1"/><circle cx="1047.1" cy="844.3" r="1"/><circle cx="1043.3" cy="848.6" r="1"/><circle cx="1039.5" cy="853" r="1"/><circle cx="1035.8" cy="857.5" r="1"/><circle cx="1032.1" cy="862.4" r="1"/><circle cx="1028.8" cy="867.2" r="1"/><circle cx="1025.5" cy="872.1" r="1"/><circle cx="1022.2" cy="877" r="1"/><circle cx="1018.9" cy="881.9" r="1"/><circle cx="1015.7" cy="886.8" r="1"/><circle cx="1012.4" cy="891.9" r="1"/><circle cx="1009.1" cy="896.9" r="1"/><circle cx="1005.9" cy="901.8" r="1.1"/><circle cx="1002.4" cy="906.7" r="1.1"/><circle cx="998.8" cy="911.4" r="1.1"/><circle cx="995" cy="916.3" r="1.1"/><circle cx="991.3" cy="921.3" r="1.1"/><circle cx="987.5" cy="926.3" r="1.1"/><circle cx="983.8" cy="931.3" r="1.1"/><circle cx="980" cy="936.6" r="1.1"/><circle cx="976.5" cy="941.9" r="1.1"/><circle cx="973" cy="947.4" r="1.1"/><circle cx="969.7" cy="952.8" r="1.1"/><circle cx="966.3" cy="958.4" r="1.1"/><circle cx="962.9" cy="963.9" r="1.2"/><circle cx="959.5" cy="969.5" r="1.2"/><circle cx="956.1" cy="975.1" r="1.2"/><circle cx="952.7" cy="980.8" r="1.2"/><circle cx="949.3" cy="986.5" r="1.2"/><circle cx="945.9" cy="992.3" r="1.2"/><circle cx="942.6" cy="998.1" r="1.2"/><circle cx="939.2" cy="1004" r="1.2"/><circle cx="935.8" cy="1009.9" r="1.2"/><circle cx="932.4" cy="1015.9" r="1.2"/><circle cx="929" cy="1021.9" r="1.2"/><circle cx="925.6" cy="1027.9" r="1.3"/><circle cx="922.2" cy="1034" r="1.3"/><circle cx="918.8" cy="1040.2" r="1.3"/><circle cx="915.3" cy="1046.4" r="1.3"/><circle cx="911.9" cy="1052.6" r="1.3"/><circle cx="908.5" cy="1058.9" r="1.3"/><circle cx="905" cy="1065.2" r="1.3"/><circle cx="901.6" cy="1071.6" r="1.3"/><circle cx="898.1" cy="1078" r="1.3"/><circle cx="894.6" cy="1084.5" r="1.3"/><circle cx="891.1" cy="1091" r="1.4"/><circle cx="887.6" cy="1097.5" r="1.4"/><circle cx="884" cy="1103.9" r="1.4"/><circle cx="880.3" cy="1110.5" r="1.4"/><circle cx="876.6" cy="1117" r="1.4"/><circle cx="872.8" cy="1123.7" r="1.4"/><circle cx="869.1" cy="1130.3" r="1.4"/><circle cx="865.3" cy="1137.2" r="1.4"/><circle cx="861.6" cy="1144.1" r="1.4"/><circle cx="858" cy="1150.7" r="1.5"/><circle cx="854" cy="1157.4" r="1.5"/><circle cx="849.9" cy="1164.2" r="1.5"/><circle cx="845.9" cy="1171" r="1.5"/><circle cx="841.7" cy="1177.9" r="1.5"/><circle cx="837.6" cy="1184.7" r="1.5"/><circle cx="833.4" cy="1191.7" r="1.5"/><circle cx="829.2" cy="1198.6" r="1.5"/><circle cx="824.9" cy="1205.6" r="1.5"/><circle cx="820.6" cy="1212.6" r="1.6"/><circle cx="816.3" cy="1219.7" r="1.6"/><circle cx="1226.8" cy="682" r="0.7"/><circle cx="1223.3" cy="684.8" r="0.7"/><circle cx="1219.6" cy="687.5" r="0.7"/><circle cx="1215.7" cy="689.9" r="0.7"/><circle cx="1211.9" cy="692.4" r="0.7"/><circle cx="1207.9" cy="694.9" r="0.7"/><circle cx="1204" cy="697.3" r="0.7"/><circle cx="1200.1" cy="699.8" r="0.7"/><circle cx="1196.2" cy="702.4" r="0.7"/><circle cx="1192.2" cy="704.9" r="0.7"/><circle cx="1188.2" cy="707.5" r="0.7"/><circle cx="1184.3" cy="710.1" r="0.8"/><circle cx="1180.4" cy="713" r="0.8"/><circle cx="1176.5" cy="715.8" r="0.8"/><circle cx="1172.7" cy="718.7" r="0.8"/><circle cx="1168.8" cy="721.6" r="0.8"/><circle cx="1164.9" cy="724.5" r="0.8"/><circle cx="1161" cy="727.4" r="0.8"/><circle cx="1157.2" cy="730.4" r="0.8"/><circle cx="1153.3" cy="733.4" r="0.8"/><circle cx="1149.5" cy="736.6" r="0.8"/><circle cx="1145.7" cy="739.8" r="0.8"/><circle cx="1141.9" cy="743.1" r="0.8"/><circle cx="1138" cy="746.4" r="0.8"/><circle cx="1134.3" cy="749.7" r="0.8"/><circle cx="1130.5" cy="753" r="0.8"/><circle cx="1126.7" cy="756.4" r="0.8"/><circle cx="1122.9" cy="759.8" r="0.8"/><circle cx="1119.1" cy="763.2" r="0.8"/><circle cx="1115.2" cy="766.7" r="0.8"/><circle cx="1111.4" cy="770.2" r="0.9"/><circle cx="1107.5" cy="773.9" r="0.9"/><circle cx="1103.8" cy="777.6" r="0.9"/><circle cx="1100.1" cy="781.4" r="0.9"/><circle cx="1096.4" cy="785.1" r="0.9"/><circle cx="1092.7" cy="789" r="0.9"/><circle cx="1089.1" cy="792.8" r="0.9"/><circle cx="1085.4" cy="796.7" r="0.9"/><circle cx="1081.7" cy="800.6" r="0.9"/><circle cx="1078" cy="804.6" r="0.9"/><circle cx="1074.3" cy="808.6" r="0.9"/><circle cx="1070.6" cy="812.6" r="0.9"/><circle cx="1066.8" cy="816.7" r="0.9"/><circle cx="1063.1" cy="820.7" r="0.9"/><circle cx="1059.4" cy="824.9" r="0.9"/><circle cx="1055.7" cy="829" r="0.9"/><circle cx="1052" cy="833.2" r="0.9"/><circle cx="1048.2" cy="837.5" r="1"/><circle cx="1044.5" cy="841.7" r="1"/><circle cx="1040.8" cy="846.1" r="1"/><circle cx="1036.9" cy="850.6" r="1"/><circle cx="1033.3" cy="855.1" r="1"/><circle cx="1029.3" cy="860.2" r="1"/><circle cx="1025.9" cy="864.9" r="1"/><circle cx="1022.5" cy="869.7" r="1"/><circle cx="1019.1" cy="874.5" r="1"/><circle cx="1015.7" cy="879.4" r="1"/><circle cx="1012.2" cy="884.3" r="1"/><circle cx="1008.8" cy="889.2" r="1"/><circle cx="1005.4" cy="894.3" r="1"/><circle cx="1002.2" cy="898.9" r="1.1"/><circle cx="998.6" cy="903.6" r="1.1"/><circle cx="995.1" cy="908.3" r="1.1"/><circle cx="991.3" cy="913.2" r="1.1"/><circle cx="987.6" cy="918.2" r="1.1"/><circle cx="983.8" cy="923.2" r="1.1"/><circle cx="980.1" cy="928.2" r="1.1"/><circle cx="976.2" cy="933.6" r="1.1"/><circle cx="972.5" cy="939" r="1.1"/><circle cx="968.9" cy="944.4" r="1.1"/><circle cx="965.3" cy="949.8" r="1.1"/><circle cx="961.8" cy="955.3" r="1.1"/><circle cx="958.3" cy="960.8" r="1.2"/><circle cx="954.7" cy="966.3" r="1.2"/><circle cx="951.2" cy="971.8" r="1.2"/><circle cx="947.7" cy="977.5" r="1.2"/><circle cx="944.1" cy="983.1" r="1.2"/><circle cx="940.6" cy="988.9" r="1.2"/><circle cx="937" cy="994.6" r="1.2"/><circle cx="933.5" cy="1000.4" r="1.2"/><circle cx="930" cy="1006.2" r="1.2"/><circle cx="926.4" cy="1012.1" r="1.2"/><circle cx="922.9" cy="1018.1" r="1.2"/><circle cx="919.3" cy="1024.1" r="1.3"/><circle cx="916" cy="1030.3" r="1.3"/><circle cx="912.7" cy="1036.5" r="1.3"/><circle cx="909.5" cy="1042.8" r="1.3"/><circle cx="906.2" cy="1049.1" r="1.3"/><circle cx="902.9" cy="1055.5" r="1.3"/><circle cx="899.6" cy="1061.9" r="1.3"/><circle cx="896.3" cy="1068.4" r="1.3"/><circle cx="892.9" cy="1074.9" r="1.3"/><circle cx="889.6" cy="1081.4" r="1.3"/><circle cx="886.3" cy="1088" r="1.4"/><circle cx="882.9" cy="1094.5" r="1.4"/><circle cx="879.5" cy="1101" r="1.4"/><circle cx="875.9" cy="1107.6" r="1.4"/><circle cx="872.3" cy="1114.2" r="1.4"/><circle cx="868.6" cy="1120.9" r="1.4"/><circle cx="864.9" cy="1127.6" r="1.4"/><circle cx="861.1" cy="1134.6" r="1.4"/><circle cx="857.4" cy="1141.5" r="1.4"/><circle cx="854" cy="1147.9" r="1.5"/><circle cx="850" cy="1154.6" r="1.5"/><circle cx="845.9" cy="1161.4" r="1.5"/><circle cx="841.9" cy="1168.2" r="1.5"/><circle cx="837.8" cy="1175.1" r="1.5"/><circle cx="833.6" cy="1181.9" r="1.5"/><circle cx="829.4" cy="1188.8" r="1.5"/><circle cx="825.2" cy="1195.8" r="1.5"/><circle cx="821" cy="1202.8" r="1.5"/><circle cx="816.7" cy="1209.8" r="1.6"/><circle cx="812.3" cy="1216.8" r="1.6"/><circle cx="1226.9" cy="682.4" r="0.7"/><circle cx="1223.5" cy="685.4" r="0.7"/><circle cx="1219.8" cy="688.1" r="0.7"/><circle cx="1215.7" cy="690.2" r="0.7"/><circle cx="1211.6" cy="692.4" r="0.7"/><circle cx="1207.5" cy="694.6" r="0.7"/><circle cx="1203.4" cy="696.8" r="0.7"/><circle cx="1199.2" cy="699" r="0.7"/><circle cx="1195" cy="701.2" r="0.7"/><circle cx="1190.9" cy="703.5" r="0.7"/><circle cx="1186.6" cy="705.8" r="0.7"/><circle cx="1182.5" cy="708.1" r="0.8"/><circle cx="1178.4" cy="710.8" r="0.8"/><circle cx="1174.4" cy="713.5" r="0.8"/><circle cx="1170.4" cy="716.2" r="0.8"/><circle cx="1166.4" cy="718.9" r="0.8"/><circle cx="1162.4" cy="721.7" r="0.8"/><circle cx="1158.3" cy="724.5" r="0.8"/><circle cx="1154.3" cy="727.2" r="0.8"/><circle cx="1150.3" cy="730.2" r="0.8"/><circle cx="1146.5" cy="733.3" r="0.8"/><circle cx="1142.6" cy="736.6" r="0.8"/><circle cx="1138.8" cy="739.8" r="0.8"/><circle cx="1134.9" cy="743.1" r="0.8"/><circle cx="1131.1" cy="746.4" r="0.8"/><circle cx="1127.2" cy="749.8" r="0.8"/><circle cx="1123.4" cy="753.1" r="0.8"/><circle cx="1119.5" cy="756.5" r="0.8"/><circle cx="1115.7" cy="759.9" r="0.8"/><circle cx="1111.8" cy="763.3" r="0.8"/><circle cx="1108" cy="766.8" r="0.9"/><circle cx="1104" cy="770.5" r="0.9"/><circle cx="1100.3" cy="774.4" r="0.9"/><circle cx="1096.6" cy="778.2" r="0.9"/><circle cx="1093" cy="782" r="0.9"/><circle cx="1089.3" cy="785.9" r="0.9"/><circle cx="1085.7" cy="789.8" r="0.9"/><circle cx="1082" cy="793.8" r="0.9"/><circle cx="1078.4" cy="797.8" r="0.9"/><circle cx="1074.7" cy="801.8" r="0.9"/><circle cx="1071" cy="805.8" r="0.9"/><circle cx="1067.4" cy="809.9" r="0.9"/><circle cx="1063.7" cy="814.1" r="0.9"/><circle cx="1060" cy="818.2" r="0.9"/><circle cx="1056.3" cy="822.4" r="0.9"/><circle cx="1052.7" cy="826.6" r="0.9"/><circle cx="1049" cy="830.9" r="0.9"/><circle cx="1045.3" cy="835.2" r="1"/><circle cx="1041.6" cy="839.5" r="1"/><circle cx="1037.9" cy="843.9" r="1"/><circle cx="1034.1" cy="848.5" r="1"/><circle cx="1030.4" cy="853.2" r="1"/><circle cx="1026.3" cy="858.4" r="1"/><circle cx="1022.7" cy="863" r="1"/><circle cx="1019.2" cy="867.7" r="1"/><circle cx="1015.6" cy="872.5" r="1"/><circle cx="1012.1" cy="877.3" r="1"/><circle cx="1008.5" cy="882.1" r="1"/><circle cx="1005" cy="887" r="1"/><circle cx="1001.5" cy="892" r="1"/><circle cx="998.1" cy="896.4" r="1.1"/><circle cx="994.6" cy="901" r="1.1"/><circle cx="991.1" cy="905.6" r="1.1"/><circle cx="987.3" cy="910.5" r="1.1"/><circle cx="983.6" cy="915.5" r="1.1"/><circle cx="979.8" cy="920.5" r="1.1"/><circle cx="976" cy="925.6" r="1.1"/><circle cx="971.9" cy="931.3" r="1.1"/><circle cx="968.1" cy="936.5" r="1.1"/><circle cx="964.4" cy="942" r="1.1"/><circle cx="960.7" cy="947.3" r="1.1"/><circle cx="957" cy="952.7" r="1.1"/><circle cx="953.3" cy="958.1" r="1.2"/><circle cx="949.7" cy="963.5" r="1.2"/><circle cx="946" cy="969" r="1.2"/><circle cx="942.3" cy="974.6" r="1.2"/><circle cx="938.6" cy="980.2" r="1.2"/><circle cx="934.9" cy="985.9" r="1.2"/><circle cx="931.2" cy="991.6" r="1.2"/><circle cx="927.5" cy="997.3" r="1.2"/><circle cx="923.8" cy="1003.1" r="1.2"/><circle cx="920.1" cy="1008.9" r="1.2"/><circle cx="916.4" cy="1014.8" r="1.2"/><circle cx="912.7" cy="1020.7" r="1.3"/><circle cx="909.6" cy="1027" r="1.3"/><circle cx="906.4" cy="1033.4" r="1.3"/><circle cx="903.3" cy="1039.7" r="1.3"/><circle cx="900.1" cy="1046.2" r="1.3"/><circle cx="897" cy="1052.6" r="1.3"/><circle cx="893.8" cy="1059.1" r="1.3"/><circle cx="890.7" cy="1065.7" r="1.3"/><circle cx="887.5" cy="1072.3" r="1.3"/><circle cx="884.3" cy="1078.9" r="1.3"/><circle cx="881.1" cy="1085.6" r="1.4"/><circle cx="877.9" cy="1092.1" r="1.4"/><circle cx="874.8" cy="1098.7" r="1.4"/><circle cx="871.2" cy="1105.3" r="1.4"/><circle cx="867.6" cy="1112" r="1.4"/><circle cx="864" cy="1118.7" r="1.4"/><circle cx="860.4" cy="1125.5" r="1.4"/><circle cx="856.7" cy="1132.5" r="1.4"/><circle cx="853" cy="1139.6" r="1.4"/><circle cx="849.6" cy="1145.7" r="1.5"/><circle cx="845.6" cy="1152.4" r="1.5"/><circle cx="841.6" cy="1159.2" r="1.5"/><circle cx="837.5" cy="1166" r="1.5"/><circle cx="833.4" cy="1172.8" r="1.5"/><circle cx="829.3" cy="1179.7" r="1.5"/><circle cx="825.1" cy="1186.6" r="1.5"/><circle cx="820.9" cy="1193.6" r="1.5"/><circle cx="816.6" cy="1200.5" r="1.5"/><circle cx="812.3" cy="1207.5" r="1.6"/><circle cx="808" cy="1214.5" r="1.6"/><circle cx="1227.3" cy="682.7" r="0.7"/><circle cx="1224" cy="685.8" r="0.7"/><circle cx="1220.4" cy="688.5" r="0.7"/><circle cx="1216" cy="690.3" r="0.7"/><circle cx="1211.7" cy="692.2" r="0.7"/><circle cx="1207.4" cy="694.1" r="0.7"/><circle cx="1203" cy="696" r="0.7"/><circle cx="1198.6" cy="697.9" r="0.7"/><circle cx="1194.3" cy="699.9" r="0.7"/><circle cx="1189.9" cy="701.8" r="0.7"/><circle cx="1185.3" cy="703.8" r="0.7"/><circle cx="1181" cy="705.9" r="0.8"/><circle cx="1176.7" cy="708.4" r="0.8"/><circle cx="1172.6" cy="711" r="0.8"/><circle cx="1168.4" cy="713.5" r="0.8"/><circle cx="1164.3" cy="716.1" r="0.8"/><circle cx="1160.1" cy="718.6" r="0.8"/><circle cx="1155.9" cy="721.3" r="0.8"/><circle cx="1151.7" cy="723.9" r="0.8"/><circle cx="1147.6" cy="726.7" r="0.8"/><circle cx="1143.8" cy="729.8" r="0.8"/><circle cx="1139.9" cy="733.1" r="0.8"/><circle cx="1136.1" cy="736.3" r="0.8"/><circle cx="1132.1" cy="739.6" r="0.8"/><circle cx="1128.2" cy="742.9" r="0.8"/><circle cx="1124.3" cy="746.2" r="0.8"/><circle cx="1120.5" cy="749.5" r="0.8"/><circle cx="1116.6" cy="752.9" r="0.8"/><circle cx="1112.7" cy="756.3" r="0.8"/><circle cx="1108.7" cy="759.7" r="0.8"/><circle cx="1104.9" cy="763.1" r="0.9"/><circle cx="1100.8" cy="766.9" r="0.9"/><circle cx="1097.1" cy="770.8" r="0.9"/><circle cx="1093.4" cy="774.7" r="0.9"/><circle cx="1089.9" cy="778.6" r="0.9"/><circle cx="1086.2" cy="782.6" r="0.9"/><circle cx="1082.6" cy="786.5" r="0.9"/><circle cx="1079" cy="790.5" r="0.9"/><circle cx="1075.4" cy="794.5" r="0.9"/><circle cx="1071.8" cy="798.6" r="0.9"/><circle cx="1068.1" cy="802.7" r="0.9"/><circle cx="1064.5" cy="806.9" r="0.9"/><circle cx="1060.8" cy="811.1" r="0.9"/><circle cx="1057.3" cy="815.3" r="0.9"/><circle cx="1053.6" cy="819.5" r="0.9"/><circle cx="1050" cy="823.8" r="0.9"/><circle cx="1046.3" cy="828.1" r="0.9"/><circle cx="1042.7" cy="832.5" r="1"/><circle cx="1039.1" cy="836.9" r="1"/><circle cx="1035.4" cy="841.3" r="1"/><circle cx="1031.6" cy="846.1" r="1"/><circle cx="1028" cy="850.8" r="1"/><circle cx="1023.5" cy="856.2" r="1"/><circle cx="1019.8" cy="860.7" r="1"/><circle cx="1016.2" cy="865.4" r="1"/><circle cx="1012.5" cy="870.1" r="1"/><circle cx="1008.8" cy="874.8" r="1"/><circle cx="1005.2" cy="879.6" r="1"/><circle cx="1001.5" cy="884.4" r="1"/><circle cx="997.8" cy="889.3" r="1"/><circle cx="994.4" cy="893.5" r="1.1"/><circle cx="990.9" cy="898" r="1.1"/><circle cx="987.5" cy="902.5" r="1.1"/><circle cx="983.7" cy="907.4" r="1.1"/><circle cx="979.9" cy="912.4" r="1.1"/><circle cx="976.1" cy="917.4" r="1.1"/><circle cx="972.3" cy="922.5" r="1.1"/><circle cx="968.2" cy="928.2" r="1.1"/><circle cx="964.1" cy="933.6" r="1.1"/><circle cx="960.2" cy="939" r="1.1"/><circle cx="956.4" cy="944.3" r="1.1"/><circle cx="952.5" cy="949.6" r="1.1"/><circle cx="948.7" cy="955" r="1.2"/><circle cx="944.9" cy="960.3" r="1.2"/><circle cx="941.1" cy="965.8" r="1.2"/><circle cx="937.3" cy="971.3" r="1.2"/><circle cx="933.4" cy="976.8" r="1.2"/><circle cx="929.6" cy="982.4" r="1.2"/><circle cx="925.7" cy="988" r="1.2"/><circle cx="921.9" cy="993.7" r="1.2"/><circle cx="918" cy="999.4" r="1.2"/><circle cx="914.2" cy="1005.2" r="1.2"/><circle cx="910.3" cy="1011" r="1.2"/><circle cx="906.4" cy="1016.9" r="1.3"/><circle cx="903.4" cy="1023.3" r="1.3"/><circle cx="900.4" cy="1029.7" r="1.3"/><circle cx="897.4" cy="1036.1" r="1.3"/><circle cx="894.4" cy="1042.7" r="1.3"/><circle cx="891.4" cy="1049.2" r="1.3"/><circle cx="888.4" cy="1055.8" r="1.3"/><circle cx="885.3" cy="1062.4" r="1.3"/><circle cx="882.3" cy="1069.1" r="1.3"/><circle cx="879.2" cy="1075.8" r="1.3"/><circle cx="876.2" cy="1082.6" r="1.4"/><circle cx="873.2" cy="1089.2" r="1.4"/><circle cx="870.3" cy="1095.8" r="1.4"/><circle cx="866.8" cy="1102.5" r="1.4"/><circle cx="863.3" cy="1109.2" r="1.4"/><circle cx="859.8" cy="1115.9" r="1.4"/><circle cx="856.3" cy="1122.7" r="1.4"/><circle cx="852.6" cy="1129.9" r="1.4"/><circle cx="848.8" cy="1137" r="1.4"/><circle cx="845.6" cy="1142.9" r="1.5"/><circle cx="841.6" cy="1149.7" r="1.5"/><circle cx="837.6" cy="1156.4" r="1.5"/><circle cx="833.5" cy="1163.2" r="1.5"/><circle cx="829.4" cy="1170.1" r="1.5"/><circle cx="825.3" cy="1176.9" r="1.5"/><circle cx="821.1" cy="1183.8" r="1.5"/><circle cx="816.9" cy="1190.7" r="1.5"/><circle cx="812.7" cy="1197.7" r="1.5"/><circle cx="808.4" cy="1204.7" r="1.6"/><circle cx="804.1" cy="1211.7" r="1.6"/><circle cx="868.4" cy="1132.5" r="1.1"/><circle cx="861.8" cy="1131.3" r="1.1"/><circle cx="855.4" cy="1130.3" r="1.1"/><circle cx="849" cy="1129.3" r="1.1"/><circle cx="842.7" cy="1128.2" r="1.1"/><circle cx="836.7" cy="1126.8" r="1.1"/><circle cx="830.7" cy="1125.2" r="1.1"/><circle cx="824.5" cy="1123.2" r="1.1"/><circle cx="818.7" cy="1121.1" r="1.1"/><circle cx="812.6" cy="1118.8" r="1.1"/><circle cx="806.7" cy="1116.5" r="1.1"/><circle cx="800.7" cy="1114" r="1.1"/><circle cx="794.7" cy="1111.4" r="1.1"/><circle cx="788.8" cy="1108.9" r="1.1"/><circle cx="782.9" cy="1106.3" r="1.1"/><circle cx="777" cy="1103.6" r="1.1"/><circle cx="771.1" cy="1101" r="1.1"/><circle cx="765.1" cy="1098.3" r="1.1"/><circle cx="759.2" cy="1095.6" r="1.1"/><circle cx="753.3" cy="1092.9" r="1.1"/><circle cx="747.4" cy="1090.2" r="1.1"/><circle cx="741.5" cy="1087.5" r="1.1"/><circle cx="735.7" cy="1084.8" r="1.1"/><circle cx="729.9" cy="1082" r="1.1"/><circle cx="724.8" cy="1079" r="1.1"/><circle cx="718.7" cy="1075.5" r="1.1"/><circle cx="712.8" cy="1072.5" r="1.1"/><circle cx="706.9" cy="1069.7" r="1.1"/><circle cx="701" cy="1067" r="1.1"/><circle cx="695.1" cy="1064.2" r="1.1"/><circle cx="689.2" cy="1061.5" r="1.1"/><circle cx="683.2" cy="1058.8" r="1.1"/><circle cx="677.3" cy="1056.1" r="1.1"/><circle cx="671.4" cy="1053.4" r="1.1"/><circle cx="665.5" cy="1050.8" r="1.1"/><circle cx="659.5" cy="1048.1" r="1.1"/><circle cx="653.6" cy="1045.4" r="1.1"/><circle cx="647.7" cy="1042.7" r="1.1"/><circle cx="641.8" cy="1040" r="1.1"/><circle cx="635.8" cy="1037.4" r="1.1"/><circle cx="629.9" cy="1034.7" r="1.1"/><circle cx="624" cy="1032" r="1.1"/><circle cx="618.1" cy="1029.3" r="1.1"/><circle cx="612.1" cy="1026.7" r="1.1"/><circle cx="606.2" cy="1024" r="1.1"/><circle cx="600.3" cy="1021.3" r="1.1"/><circle cx="594.4" cy="1018.7" r="1.1"/><circle cx="588.4" cy="1016" r="1.1"/><circle cx="582.5" cy="1013.3" r="1.1"/><circle cx="576.6" cy="1010.6" r="1.1"/><circle cx="570.7" cy="1008" r="1.1"/><circle cx="564.7" cy="1005.3" r="1.1"/><circle cx="558.8" cy="1002.6" r="1.1"/><circle cx="552.9" cy="999.9" r="1.1"/><circle cx="547" cy="997.2" r="1.1"/><circle cx="541.1" cy="994.5" r="1.1"/><circle cx="535.2" cy="991.8" r="1.1"/><circle cx="529.3" cy="989.1" r="1.1"/><circle cx="523.3" cy="986.5" r="1.1"/><circle cx="517.4" cy="983.8" r="1.1"/><circle cx="511.5" cy="981.1" r="1.1"/><circle cx="505.7" cy="978.3" r="1.1"/><circle cx="499.8" cy="975.6" r="1.1"/><circle cx="494" cy="972.8" r="1.1"/><circle cx="488.2" cy="970" r="1.1"/><circle cx="482.4" cy="967.1" r="1.1"/><circle cx="476.6" cy="964.2" r="1.1"/><circle cx="470.8" cy="961.3" r="1.1"/><circle cx="465.1" cy="958.3" r="1.1"/><circle cx="459.3" cy="955.3" r="1.1"/><circle cx="453.6" cy="952.3" r="1.1"/><circle cx="447.8" cy="949.3" r="1.1"/><circle cx="442.1" cy="946.2" r="1.1"/><circle cx="436.3" cy="943.2" r="1.1"/><circle cx="430.6" cy="940.1" r="1.1"/><circle cx="424.8" cy="937.1" r="1.1"/><circle cx="419.1" cy="934.1" r="1.1"/><circle cx="866.9" cy="1123.1" r="1.1"/><circle cx="860" cy="1121.9" r="1.1"/><circle cx="853.6" cy="1120.9" r="1.1"/><circle cx="847.6" cy="1119.9" r="1.1"/><circle cx="841.7" cy="1118.8" r="1.1"/><circle cx="835.7" cy="1117.2" r="1.1"/><circle cx="830.4" cy="1115.6" r="1.1"/><circle cx="824.4" cy="1113.7" r="1.1"/><circle cx="818.8" cy="1111.6" r="1.1"/><circle cx="812.9" cy="1109.3" r="1.1"/><circle cx="807.2" cy="1106.9" r="1.1"/><circle cx="801.2" cy="1104.4" r="1.1"/><circle cx="795.4" cy="1101.9" r="1.1"/><circle cx="789.5" cy="1099.3" r="1.1"/><circle cx="783.5" cy="1096.7" r="1.1"/><circle cx="777.7" cy="1094.1" r="1.1"/><circle cx="771.8" cy="1091.4" r="1.1"/><circle cx="765.9" cy="1088.8" r="1.1"/><circle cx="760" cy="1086.1" r="1.1"/><circle cx="754.1" cy="1083.4" r="1.1"/><circle cx="748.2" cy="1080.7" r="1.1"/><circle cx="742.3" cy="1078" r="1.1"/><circle cx="736.6" cy="1075.3" r="1.1"/><circle cx="731.7" cy="1072.8" r="1.1"/><circle cx="726.3" cy="1069.4" r="1.1"/><circle cx="719.9" cy="1066" r="1.1"/><circle cx="713.7" cy="1063" r="1.1"/><circle cx="707.8" cy="1060.2" r="1.1"/><circle cx="701.8" cy="1057.4" r="1.1"/><circle cx="695.9" cy="1054.7" r="1.1"/><circle cx="689.9" cy="1052" r="1.1"/><circle cx="684" cy="1049.3" r="1.1"/><circle cx="678.1" cy="1046.6" r="1.1"/><circle cx="672.1" cy="1043.9" r="1.1"/><circle cx="666.2" cy="1041.2" r="1.1"/><circle cx="660.3" cy="1038.5" r="1.1"/><circle cx="654.4" cy="1035.8" r="1.1"/><circle cx="648.4" cy="1033.2" r="1.1"/><circle cx="642.5" cy="1030.5" r="1.1"/><circle cx="636.6" cy="1027.8" r="1.1"/><circle cx="630.7" cy="1025.1" r="1.1"/><circle cx="624.7" cy="1022.5" r="1.1"/><circle cx="618.8" cy="1019.8" r="1.1"/><circle cx="612.9" cy="1017.1" r="1.1"/><circle cx="606.9" cy="1014.5" r="1.1"/><circle cx="601" cy="1011.8" r="1.1"/><circle cx="595.1" cy="1009.1" r="1.1"/><circle cx="589.2" cy="1006.4" r="1.1"/><circle cx="583.3" cy="1003.8" r="1.1"/><circle cx="577.3" cy="1001.1" r="1.1"/><circle cx="571.4" cy="998.4" r="1.1"/><circle cx="565.5" cy="995.8" r="1.1"/><circle cx="559.6" cy="993.1" r="1.1"/><circle cx="553.7" cy="990.4" r="1.1"/><circle cx="547.8" cy="987.7" r="1.1"/><circle cx="541.9" cy="985" r="1.1"/><circle cx="536" cy="982.3" r="1.1"/><circle cx="530" cy="979.6" r="1.1"/><circle cx="524.1" cy="976.9" r="1.1"/><circle cx="518.2" cy="974.2" r="1.1"/><circle cx="512.3" cy="971.5" r="1.1"/><circle cx="506.5" cy="968.8" r="1.1"/><circle cx="500.8" cy="966.1" r="1.1"/><circle cx="495" cy="963.3" r="1.1"/><circle cx="489.2" cy="960.4" r="1.1"/><circle cx="483.5" cy="957.6" r="1.1"/><circle cx="477.7" cy="954.7" r="1.1"/><circle cx="472.1" cy="951.8" r="1.1"/><circle cx="466.3" cy="948.8" r="1.1"/><circle cx="460.6" cy="945.8" r="1.1"/><circle cx="454.9" cy="942.8" r="1.1"/><circle cx="449.2" cy="939.8" r="1.1"/><circle cx="443.4" cy="936.7" r="1.1"/><circle cx="437.7" cy="933.7" r="1.1"/><circle cx="431.9" cy="930.7" r="1.1"/><circle cx="426.1" cy="927.6" r="1.1"/><circle cx="420.4" cy="924.6" r="1.1"/><circle cx="871.8" cy="1114.8" r="1.1"/><circle cx="864.7" cy="1113.6" r="1.1"/><circle cx="858.2" cy="1112.5" r="1.1"/><circle cx="851.8" cy="1111.5" r="1.1"/><circle cx="846.1" cy="1110.5" r="1.1"/><circle cx="841.1" cy="1109.3" r="1.1"/><circle cx="836" cy="1108" r="1.1"/><circle cx="830" cy="1106.1" r="1.1"/><circle cx="825.1" cy="1104.3" r="1.1"/><circle cx="819" cy="1102" r="1.1"/><circle cx="813.6" cy="1099.9" r="1.1"/><circle cx="807.7" cy="1097.3" r="1.1"/><circle cx="801.7" cy="1094.9" r="1.1"/><circle cx="796.1" cy="1092.4" r="1.1"/><circle cx="790.1" cy="1089.8" r="1.1"/><circle cx="784.3" cy="1087.2" r="1.1"/><circle cx="778.5" cy="1084.6" r="1.1"/><circle cx="772.5" cy="1081.9" r="1.1"/><circle cx="766.7" cy="1079.3" r="1.1"/><circle cx="760.8" cy="1076.6" r="1.1"/><circle cx="754.9" cy="1073.9" r="1.1"/><circle cx="749" cy="1071.1" r="1.1"/><circle cx="743.4" cy="1068.5" r="1.1"/><circle cx="738" cy="1065.9" r="1.1"/><circle cx="734.6" cy="1063.9" r="1.1"/><circle cx="727" cy="1059.5" r="1.1"/><circle cx="720.5" cy="1056.3" r="1.1"/><circle cx="714.6" cy="1053.5" r="1.1"/><circle cx="708.5" cy="1050.6" r="1.1"/><circle cx="702.6" cy="1047.9" r="1.1"/><circle cx="696.7" cy="1045.2" r="1.1"/><circle cx="690.7" cy="1042.5" r="1.1"/><circle cx="684.7" cy="1039.7" r="1.1"/><circle cx="678.8" cy="1037" r="1.1"/><circle cx="672.9" cy="1034.4" r="1.1"/><circle cx="667" cy="1031.7" r="1.1"/><circle cx="661" cy="1029" r="1.1"/><circle cx="655.1" cy="1026.3" r="1.1"/><circle cx="649.2" cy="1023.6" r="1.1"/><circle cx="643.2" cy="1021" r="1.1"/><circle cx="637.3" cy="1018.3" r="1.1"/><circle cx="631.4" cy="1015.6" r="1.1"/><circle cx="625.5" cy="1012.9" r="1.1"/><circle cx="619.5" cy="1010.3" r="1.1"/><circle cx="613.6" cy="1007.6" r="1.1"/><circle cx="607.7" cy="1004.9" r="1.1"/><circle cx="601.8" cy="1002.2" r="1.1"/><circle cx="595.8" cy="999.6" r="1.1"/><circle cx="589.9" cy="996.9" r="1.1"/><circle cx="584" cy="994.2" r="1.1"/><circle cx="578.1" cy="991.6" r="1.1"/><circle cx="572.2" cy="988.9" r="1.1"/><circle cx="566.3" cy="986.2" r="1.1"/><circle cx="560.4" cy="983.5" r="1.1"/><circle cx="554.4" cy="980.8" r="1.1"/><circle cx="548.6" cy="978.2" r="1.1"/><circle cx="542.6" cy="975.5" r="1.1"/><circle cx="536.7" cy="972.8" r="1.1"/><circle cx="530.8" cy="970.1" r="1.1"/><circle cx="524.9" cy="967.4" r="1.1"/><circle cx="519" cy="964.7" r="1.1"/><circle cx="513.3" cy="962" r="1.1"/><circle cx="507.5" cy="959.3" r="1.1"/><circle cx="501.8" cy="956.6" r="1.1"/><circle cx="496.1" cy="953.8" r="1.1"/><circle cx="490.4" cy="951" r="1.1"/><circle cx="484.7" cy="948.1" r="1.1"/><circle cx="479" cy="945.2" r="1.1"/><circle cx="473.3" cy="942.3" r="1.1"/><circle cx="467.6" cy="939.3" r="1.1"/><circle cx="461.9" cy="936.3" r="1.1"/><circle cx="456.2" cy="933.3" r="1.1"/><circle cx="450.5" cy="930.3" r="1.1"/><circle cx="444.8" cy="927.3" r="1.1"/><circle cx="439" cy="924.2" r="1.1"/><circle cx="433.2" cy="921.2" r="1.1"/><circle cx="427.4" cy="918.1" r="1.1"/><circle cx="491.5" cy="833.8" r="0.9"/><circle cx="489" cy="837.2" r="0.9"/><circle cx="486.5" cy="840.6" r="0.9"/><circle cx="484" cy="844" r="0.9"/><circle cx="481.6" cy="847.4" r="0.9"/><circle cx="479.1" cy="850.8" r="0.9"/><circle cx="476.6" cy="854.1" r="0.9"/><circle cx="474.1" cy="857.5" r="0.9"/><circle cx="471.7" cy="860.9" r="0.9"/><circle cx="469.2" cy="864.3" r="0.9"/><circle cx="466.7" cy="867.7" r="0.9"/><circle cx="464.3" cy="871.1" r="0.9"/><circle cx="461.8" cy="874.5" r="0.9"/><circle cx="459.3" cy="877.9" r="0.9"/><circle cx="456.8" cy="881.3" r="0.9"/><circle cx="454.4" cy="884.7" r="0.9"/><circle cx="451.9" cy="888.1" r="0.9"/><circle cx="449.4" cy="891.5" r="0.9"/><circle cx="446.9" cy="894.9" r="0.9"/><circle cx="444.5" cy="898.3" r="0.9"/><circle cx="442" cy="901.7" r="0.9"/><circle cx="439.5" cy="905.1" r="0.9"/><circle cx="437" cy="908.4" r="0.9"/><circle cx="434.6" cy="911.8" r="0.9"/><circle cx="432.1" cy="915.2" r="0.9"/><circle cx="429.6" cy="918.6" r="0.9"/><circle cx="427.1" cy="922" r="0.9"/><circle cx="424.7" cy="925.4" r="0.9"/><circle cx="422.2" cy="928.8" r="0.9"/><circle cx="419.7" cy="932.2" r="0.9"/><circle cx="417.2" cy="935.6" r="0.9"/><circle cx="495.1" cy="839" r="0.9"/><circle cx="492.6" cy="842.4" r="0.9"/><circle cx="490.1" cy="845.8" r="0.9"/><circle cx="487.7" cy="849.2" r="0.9"/><circle cx="485.2" cy="852.6" r="0.9"/><circle cx="482.7" cy="856" r="0.9"/><circle cx="480.2" cy="859.4" r="0.9"/><circle cx="477.8" cy="862.8" r="0.9"/><circle cx="475.3" cy="866.2" r="0.9"/><circle cx="472.8" cy="869.6" r="0.9"/><circle cx="470.3" cy="873" r="0.9"/><circle cx="467.9" cy="876.3" r="0.9"/><circle cx="465.4" cy="879.7" r="0.9"/><circle cx="462.9" cy="883.1" r="0.9"/><circle cx="460.4" cy="886.5" r="0.9"/><circle cx="458" cy="889.9" r="0.9"/><circle cx="455.5" cy="893.3" r="0.9"/><circle cx="453" cy="896.7" r="0.9"/><circle cx="450.5" cy="900.1" r="0.9"/><circle cx="448.1" cy="903.5" r="0.9"/><circle cx="445.6" cy="906.9" r="0.9"/><circle cx="443.1" cy="910.3" r="0.9"/><circle cx="440.6" cy="913.7" r="0.9"/><circle cx="438.2" cy="917.1" r="0.9"/><circle cx="435.7" cy="920.5" r="0.9"/><circle cx="433.2" cy="923.9" r="0.9"/><circle cx="430.8" cy="927.3" r="0.9"/><circle cx="428.3" cy="930.6" r="0.9"/><circle cx="425.8" cy="934" r="0.9"/><circle cx="423.3" cy="937.4" r="0.9"/><circle cx="420.9" cy="940.8" r="0.9"/><circle cx="501.2" cy="840.8" r="0.9"/><circle cx="498.7" cy="844.2" r="0.9"/><circle cx="496.2" cy="847.6" r="0.9"/><circle cx="493.7" cy="851" r="0.9"/><circle cx="491.3" cy="854.4" r="0.9"/><circle cx="488.8" cy="857.8" r="0.9"/><circle cx="486.3" cy="861.2" r="0.9"/><circle cx="483.8" cy="864.6" r="0.9"/><circle cx="481.4" cy="868" r="0.9"/><circle cx="478.9" cy="871.4" r="0.9"/><circle cx="476.4" cy="874.8" r="0.9"/><circle cx="473.9" cy="878.2" r="0.9"/><circle cx="471.5" cy="881.6" r="0.9"/><circle cx="469" cy="885" r="0.9"/><circle cx="466.5" cy="888.4" r="0.9"/><circle cx="464.1" cy="891.8" r="0.9"/><circle cx="461.6" cy="895.2" r="0.9"/><circle cx="459.1" cy="898.5" r="0.9"/><circle cx="456.6" cy="901.9" r="0.9"/><circle cx="454.2" cy="905.3" r="0.9"/><circle cx="451.7" cy="908.7" r="0.9"/><circle cx="449.2" cy="912.1" r="0.9"/><circle cx="446.7" cy="915.5" r="0.9"/><circle cx="444.3" cy="918.9" r="0.9"/><circle cx="441.8" cy="922.3" r="0.9"/><circle cx="439.3" cy="925.7" r="0.9"/><circle cx="436.8" cy="929.1" r="0.9"/><circle cx="434.4" cy="932.5" r="0.9"/><circle cx="431.9" cy="935.9" r="0.9"/><circle cx="429.4" cy="939.3" r="0.9"/><circle cx="426.9" cy="942.7" r="0.9"/></g>
<g clip-path="url(#cBeige)"><rect x="200" y="300" width="1200" height="1100" fill="url(#gBeigeV)" filter="url(#fTex)" transform="rotate(-22 800 900)"/></g>
<g clip-path="url(#cBeige)"><g mask="url(#mShade)"><rect x="200" y="300" width="1200" height="1100" fill="#d6cfc6" filter="url(#fTex2)" transform="rotate(-22 800 900)"/></g></g>
<path d="M704,774.6 L708.8,772.1 L713.5,769.5 L718.2,766.8 L723,764 L727.7,761.1 L732.4,758 L737,754.9 L741.5,751.7 L746,748.4 L750.6,745 L755.3,741.5 L760,738 L764.9,734.3 L769.8,730.5 L774.8,726.5 L779.8,722.5 L784.9,718.5 L789.9,714.5 L795,710.7 L800,707 L805,703.4 L810,699.9 L815,696.4 L820,693 L825,689.7 L830,686.6 L835,683.7 L840,681 L845,678.6 L850,676.5 L855,674.6 L860,672.8 L865,671.1 L870,669.5 L875,667.8 L880,666 L884.6,667.5 L889.2,669.1 L893.8,670.6 L898.3,672.2 L902.9,673.7 L907.6,675.2 L912.4,676.6 L917.3,678 L922.4,679.3 L927.7,680.5 L933,681.6 L938.5,682.7 L943.9,683.8 L949.4,684.8 L954.8,685.9 L960,687 L965,688.2 L969.9,689.3 L974.6,690.6 L979.4,691.8 L984.2,692.9 L989.1,694 L994.4,695.1 L1000,696 L1006,696.8 L1012.3,697.6 L1018.9,698.3 L1025.6,698.9 L1032.5,699.5 L1039.4,700.1 L1046.2,700.5 L1053,701 L1059.7,701.4 L1066.5,701.8 L1073.2,702.2 L1080,702.5 L1086.8,702.7 L1093.5,702.9 L1100.3,703 L1107,703 L1113.8,702.9 L1120.6,702.7 L1127.5,702.4 L1134.4,702.1 L1141.1,701.6 L1147.7,701.1 L1154,700.6 L1160,700 L1165.7,699.4 L1171.1,698.7 L1176.3,698 L1181.2,697.2 L1186.1,696.4 L1190.8,695.4 L1195.4,694.3 L1200,693 L1204.4,691.5 L1208.5,689.9 L1212.5,688 L1216.4,686.1 L1220.3,684.1 L1224.3,682.1 L1228.5,680 L1233,678 L1237.8,676 L1242.9,673.9 L1248.2,671.8 L1253.6,669.6 L1259,667.5 L1264.5,665.3 L1269.9,663.1 L1275.3,661 L1275.3,661 L1268.1,664 L1260.9,667.1 L1253.6,670.2 L1246.4,673.2 L1239.5,676.2 L1233,679 L1227.2,681.7 L1222.1,684.4 L1217.2,687.1 L1212.1,689.6 L1206.5,691.9 L1200,694 L1192.2,695.9 L1183.3,697.7 L1173.9,699.3 L1164.4,700.7 L1155.3,701.9 L1147,703 L1139.7,703.8 L1133.2,704.3 L1127.1,704.6 L1120.9,704.9 L1114.3,705.1 L1107,705.5 L1098.8,706 L1090,706.4 L1080.8,706.9 L1071.4,707.4 L1062.1,708 L1053,708.5 L1043.8,709 L1034.3,709.5 L1024.8,710 L1015.7,710.6 L1007.3,711.2 L1000,712 L994.1,713 L989.6,714.1 L985.7,715.3 L982,716.6 L978,717.9 L973,719 L967.1,720.1 L960.6,721.1 L953.8,722.1 L946.8,723.1 L939.8,724.1 L933,725 L926.3,725.8 L919.7,726.5 L913,727.2 L906.3,727.9 L899.7,728.8 L893,730 L886.5,731.5 L880.1,733.3 L873.8,735.3 L867.3,737.3 L860.4,739.3 L853,741 L844.8,742.5 L835.8,743.9 L826.5,745.1 L817.2,746.4 L808.2,747.6 L800,749 L792.6,750.4 L785.7,751.9 L779.2,753.4 L772.9,755 L766.5,756.5 L760,758 L753.2,759.5 L746.3,761 L739.4,762.5 L732.6,764 L726.1,765.5 L720,767 L714.4,768.5 L709.3,770 L704.4,771.5 L699.6,773 L694.9,774.5 L690,776 Z" fill="url(#pUnder)"/>
<path d="M899,505.6 L917.4,513.2 L935,520.7 L952.2,528 L969.7,535.4 L987.8,543 L1006.8,550.8 L1027.5,559.1 L1050,568 L1074.8,577.5 L1101.5,587.6 L1129.8,598.1 L1159.1,608.9 L1189,619.8 L1219,630.9 L1248.8,641.8 L1277.8,652.5 L1277.8,652.5 L1272.2,654.5 L1266.6,656.5 L1261,658.6 L1255.4,660.6 L1249.8,662.6 L1244.2,664.6 L1238.6,666.6 L1233,668.5 L1227.5,670.5 L1222.3,672.5 L1217.2,674.6 L1212,676.6 L1206.6,678.5 L1200.9,680.2 L1194.7,681.7 L1188,683 L1180.3,684 L1171.7,684.8 L1162.5,685.3 L1153.1,685.8 L1143.8,686 L1134.9,686.1 L1126.9,686.1 L1120,686 L1114.6,685.7 L1110.3,685.3 L1107,684.8 L1104,684.1 L1101.2,683.2 L1098.1,682.3 L1094.3,681.3 L1089.4,680.3 L1083.5,679.2 L1076.9,677.9 L1069.8,676.5 L1062.4,675.1 L1054.7,673.6 L1047,672 L1039.4,670.4 L1032,668.8 L1024.8,667.2 L1017.7,665.5 L1010.5,663.8 L1003.4,662.1 L996.2,660.3 L989,658.4 L981.9,656.5 L974.7,654.5 L967.5,652.4 L960.2,650.4 L952.8,648.2 L945.5,646 L938.2,643.7 L931,641.3 L924.1,638.7 L917.3,635.9 L910.8,632.9 L904.5,629.7 L898.4,626.3 L892.4,622.8 L886.5,619.2 L880.6,615.6 L874.6,612.1 L868.6,608.6 L862.6,612.9 L856.6,617.2 L850.6,621.5 L844.6,625.8 L838.6,630.1 L832.5,634.4 L826.3,638.8 L820,643.3 L813.6,647.9 L807,652.6 L800.4,657.5 L793.7,662.3 L786.9,667.1 L780.2,671.9 L773.4,676.4 L766.7,680.7 L760.1,684.8 L753.6,688.7 L747.1,692.4 L740.7,696 L734.1,699.6 L727.3,703 L720.3,706.5 L713,710 L705.3,713.5 L697.3,716.9 L689.1,720.4 L680.7,723.7 L672.1,727.1 L663.6,730.3 L655.1,733.5 L646.7,736.7 L638.4,739.8 L630.1,742.8 L621.7,745.8 L613.4,748.8 L605.1,751.7 L596.7,754.5 L588.4,757.3 L580,760 L571.6,762.7 L563.3,765.5 L554.9,768.2 L546.5,770.8 L538.1,773.4 L529.7,775.8 L521.3,778 L513,780 L504.6,781.8 L496,783.3 L487.4,784.7 L478.8,785.9 L470.4,787 L462.2,788 L454.2,789 L446.7,790 L439.6,790.9 L432.9,791.8 L426.5,792.5 L420.4,793.2 L414.3,793.9 L408.3,794.6 L402.2,795.3 L396,796 L416.3,784.9 L436.4,773.9 L456.4,763 L476.4,752.1 L496.6,741 L517.2,729.7 L538.3,718.1 L560,706 L582.8,693.3 L606.6,680.1 L631.1,666.5 L655.9,652.7 L680.6,638.9 L704.8,625.2 L728,611.8 L750,599 L770.6,586.7 L790.1,574.7 L808.9,563 L827.1,551.4 L844.9,540 L862.7,528.6 L880.7,517.2 L899,505.6 Z" fill="url(#pDots)"/>
<path d="M899,505.6 L917.4,513.2 L935,520.7 L952.2,528 L969.7,535.4 L987.8,543 L1006.8,550.8 L1027.5,559.1 L1050,568 L1074.8,577.5 L1101.5,587.6 L1129.8,598.1 L1159.1,608.9 L1189,619.8 L1219,630.9 L1248.8,641.8 L1277.8,652.5 L1277.8,652.5 L1272.2,654.5 L1266.6,656.5 L1261,658.6 L1255.4,660.6 L1249.8,662.6 L1244.2,664.6 L1238.6,666.6 L1233,668.5 L1227.5,670.5 L1222.3,672.5 L1217.2,674.6 L1212,676.6 L1206.6,678.5 L1200.9,680.2 L1194.7,681.7 L1188,683 L1180.3,684 L1171.7,684.8 L1162.5,685.3 L1153.1,685.8 L1143.8,686 L1134.9,686.1 L1126.9,686.1 L1120,686 L1114.6,685.7 L1110.3,685.3 L1107,684.8 L1104,684.1 L1101.2,683.2 L1098.1,682.3 L1094.3,681.3 L1089.4,680.3 L1083.5,679.2 L1076.9,677.9 L1069.8,676.5 L1062.4,675.1 L1054.7,673.6 L1047,672 L1039.4,670.4 L1032,668.8 L1024.8,667.2 L1017.7,665.5 L1010.5,663.8 L1003.4,662.1 L996.2,660.3 L989,658.4 L981.9,656.5 L974.7,654.5 L967.5,652.4 L960.2,650.4 L952.8,648.2 L945.5,646 L938.2,643.7 L931,641.3 L924.1,638.7 L917.3,635.9 L910.8,632.9 L904.5,629.7 L898.4,626.3 L892.4,622.8 L886.5,619.2 L880.6,615.6 L874.6,612.1 L868.6,608.6 L862.6,612.9 L856.6,617.2 L850.6,621.5 L844.6,625.8 L838.6,630.1 L832.5,634.4 L826.3,638.8 L820,643.3 L813.6,647.9 L807,652.6 L800.4,657.5 L793.7,662.3 L786.9,667.1 L780.2,671.9 L773.4,676.4 L766.7,680.7 L760.1,684.8 L753.6,688.7 L747.1,692.4 L740.7,696 L734.1,699.6 L727.3,703 L720.3,706.5 L713,710 L705.3,713.5 L697.3,716.9 L689.1,720.4 L680.7,723.7 L672.1,727.1 L663.6,730.3 L655.1,733.5 L646.7,736.7 L638.4,739.8 L630.1,742.8 L621.7,745.8 L613.4,748.8 L605.1,751.7 L596.7,754.5 L588.4,757.3 L580,760 L571.6,762.7 L563.3,765.5 L554.9,768.2 L546.5,770.8 L538.1,773.4 L529.7,775.8 L521.3,778 L513,780 L504.6,781.8 L496,783.3 L487.4,784.7 L478.8,785.9 L470.4,787 L462.2,788 L454.2,789 L446.7,790 L439.6,790.9 L432.9,791.8 L426.5,792.5 L420.4,793.2 L414.3,793.9 L408.3,794.6 L402.2,795.3 L396,796 L416.3,784.9 L436.4,773.9 L456.4,763 L476.4,752.1 L496.6,741 L517.2,729.7 L538.3,718.1 L560,706 L582.8,693.3 L606.6,680.1 L631.1,666.5 L655.9,652.7 L680.6,638.9 L704.8,625.2 L728,611.8 L750,599 L770.6,586.7 L790.1,574.7 L808.9,563 L827.1,551.4 L844.9,540 L862.7,528.6 L880.7,517.2 L899,505.6 Z" fill="url(#gTopLight)"/>
<path d="M396,796 L402.2,795.3 L408.3,794.6 L414.3,793.9 L420.4,793.2 L426.5,792.5 L432.9,791.8 L439.6,790.9 L446.7,790 L454.2,789 L462.2,788 L470.4,787 L478.8,785.9 L487.4,784.7 L496,783.3 L504.6,781.8 L513,780 L521.3,778 L529.7,775.8 L538.1,773.4 L546.5,770.8 L554.9,768.2 L563.3,765.5 L571.6,762.7 L580,760 L588.4,757.3 L596.7,754.5 L605.1,751.7 L613.4,748.8 L621.7,745.8 L630.1,742.8 L638.4,739.8 L646.7,736.7 L655.1,733.5 L663.6,730.3 L672.1,727.1 L680.7,723.7 L689.1,720.4 L697.3,716.9 L705.3,713.5 L713,710 L720.3,706.5 L727.3,703 L734.1,699.6 L740.7,696 L747.1,692.4 L753.6,688.7 L760.1,684.8 L766.7,680.7 L773.4,676.4 L780.2,671.9 L786.9,667.1 L793.7,662.3 L800.4,657.5 L807,652.6 L813.6,647.9 L820,643.3 L826.3,638.8 L832.5,634.4 L838.6,630.1 L844.6,625.8 L850.6,621.5 L856.6,617.2 L862.6,612.9 L868.6,608.6 L874.6,612.1 L880.6,615.6 L886.5,619.2 L892.4,622.8 L898.4,626.3 L904.5,629.7 L910.8,632.9 L917.3,635.9 L924.1,638.7 L931,641.3 L938.2,643.7 L945.5,646 L952.8,648.2 L960.2,650.4 L967.5,652.4 L974.7,654.5 L981.9,656.5 L989,658.4 L996.2,660.3 L1003.4,662.1 L1010.5,663.8 L1017.7,665.5 L1024.8,667.2 L1032,668.8 L1039.4,670.4 L1047,672 L1054.7,673.6 L1062.4,675.1 L1069.8,676.5 L1076.9,677.9 L1083.5,679.2 L1089.4,680.3 L1094.3,681.3 L1098.1,682.3 L1101.2,683.2 L1104,684.1 L1107,684.8 L1110.3,685.3 L1114.6,685.7 L1120,686 L1126.9,686.1 L1134.9,686.1 L1143.8,686 L1153.1,685.8 L1162.5,685.3 L1171.7,684.8 L1180.3,684 L1188,683 L1194.7,681.7 L1200.9,680.2 L1206.6,678.5 L1212,676.6 L1217.2,674.6 L1222.3,672.5 L1227.5,670.5 L1233,668.5 L1238.6,666.6 L1244.2,664.6 L1249.8,662.6 L1255.4,660.6 L1261,658.6 L1266.6,656.5 L1272.2,654.5 L1277.8,652.5 L1275.3,661 L1269.9,663.1 L1264.5,665.3 L1259,667.5 L1253.6,669.6 L1248.2,671.8 L1242.9,673.9 L1237.8,676 L1233,678 L1228.5,680 L1224.3,682.1 L1220.3,684.1 L1216.4,686.1 L1212.5,688 L1208.5,689.9 L1204.4,691.5 L1200,693 L1195.4,694.3 L1190.8,695.4 L1186.1,696.4 L1181.2,697.2 L1176.3,698 L1171.1,698.7 L1165.7,699.4 L1160,700 L1154,700.6 L1147.7,701.1 L1141.1,701.6 L1134.4,702.1 L1127.5,702.4 L1120.6,702.7 L1113.8,702.9 L1107,703 L1100.3,703 L1093.5,702.9 L1086.8,702.7 L1080,702.5 L1073.2,702.2 L1066.5,701.8 L1059.7,701.4 L1053,701 L1046.2,700.5 L1039.4,700.1 L1032.5,699.5 L1025.6,698.9 L1018.9,698.3 L1012.3,697.6 L1006,696.8 L1000,696 L994.4,695.1 L989.1,694 L984.2,692.9 L979.4,691.8 L974.6,690.6 L969.9,689.3 L965,688.2 L960,687 L954.8,685.9 L949.4,684.8 L943.9,683.8 L938.5,682.7 L933,681.6 L927.7,680.5 L922.4,679.3 L917.3,678 L912.4,676.6 L907.6,675.2 L902.9,673.7 L898.3,672.2 L893.8,670.6 L889.2,669.1 L884.6,667.5 L880,666 L875,667.8 L870,669.5 L865,671.1 L860,672.8 L855,674.6 L850,676.5 L845,678.6 L840,681 L835,683.7 L830,686.6 L825,689.7 L820,693 L815,696.4 L810,699.9 L805,703.4 L800,707 L795,710.7 L789.9,714.5 L784.9,718.5 L779.8,722.5 L774.8,726.5 L769.8,730.5 L764.9,734.3 L760,738 L755.3,741.5 L750.6,745 L746,748.4 L741.5,751.7 L737,754.9 L732.4,758 L727.7,761.1 L723,764 L718.2,766.8 L713.5,769.5 L708.8,772.1 L704,774.6 L699.1,777.1 L694,779.4 L688.6,781.7 L683,784 L677,786.2 L670.6,788.3 L663.9,790.4 L657.1,792.4 L650.2,794.3 L643.3,796.2 L636.6,798.1 L630,800 L623.7,801.9 L617.7,803.8 L611.8,805.6 L605.9,807.4 L599.9,809.2 L593.6,810.9 L587,812.5 L580,814 L572.4,815.4 L564.4,816.8 L556.1,818 L547.5,819.2 L538.8,820.4 L530.1,821.4 L521.5,822.2 L513,823 L504.6,823.6 L496,824.2 L487.4,824.6 L478.8,824.9 L470.3,825.1 L462.1,825.2 L454.2,825.1 L446.7,825 L439.7,824.7 L433.1,824.2 L426.8,823.6 L420.8,822.9 L414.9,822.2 L409,821.4 L403.1,820.7 L397,820 Z" fill="url(#pDotsSide)"/>
<path d="M396.1,797.4 L396.3,797.4 L396.6,797.5 L396.8,797.6 L397.1,797.8 L397.4,798 L397.6,798.3 L397.9,798.6 L398.2,799 L398.5,799.4 L398.7,799.9 L399,800.4 L399.3,800.9 L399.6,801.5 L399.9,802.1 L400.2,802.8 L400.4,803.5 L400.7,804.2 L401,804.9 L401.3,805.6 L401.6,806.4 L401.9,807.1 L402.2,807.9 L402.5,808.7 L402.8,809.5 L403,810.2 L403.3,811 L403.6,811.7 L403.9,812.5 L404.2,813.2 L404.5,813.9 L404.8,814.6 L405.1,815.2 L405.3,815.8 L405.6,816.4 L405.9,816.9 L406.2,817.4 L406.5,817.8 L406.7,818.3 L407,818.6 L407.3,818.9 L407.6,819.2 L407.8,819.4 L408.1,819.6 L408.4,819.7 L408.6,819.8 L408.9,819.8 L409.1,819.7 L409.4,819.6 L409.6,819.5 L409.9,819.3 L410.1,819.1 L410.4,818.8 L410.6,818.4 L410.9,818.1 L411.1,817.6 L411.3,817.2 L411.6,816.7 L411.8,816.1 L412,815.5 L412.3,814.9 L412.5,814.3 L412.7,813.6 L413,812.9 L413.2,812.2 L413.4,811.4 L413.6,810.7 L413.9,809.9 L414.1,809.1 L414.3,808.3 L414.5,807.6 L414.8,806.8 L415,806 L415.2,805.2 L415.4,804.4 L415.7,803.7 L415.9,802.9 L416.1,802.2 L416.3,801.5 L416.6,800.9 L416.8,800.2 L417,799.6 L417.3,799 L417.5,798.4 L417.7,797.9 L418,797.4 L418.2,797 L418.5,796.6 L418.7,796.2 L418.9,795.9 L419.2,795.7 L419.4,795.4 L419.7,795.3 L419.9,795.1 L420.2,795.1 L420.5,795 L420.7,795.1 L421,795.1 L421.2,795.2 L421.5,795.4 L421.8,795.6 L422,795.9 L422.3,796.2 L422.6,796.5 L422.9,796.9 L423.1,797.3 L423.4,797.8 L423.7,798.3 L424,798.9 L424.2,799.4 L424.5,800.1 L424.8,800.7 L425.1,801.4 L425.4,802.1 L425.7,802.8 L426,803.5 L426.3,804.3 L426.6,805 L426.8,805.8 L427.1,806.6 L427.4,807.4 L427.7,808.2 L428,809 L428.3,809.8 L428.6,810.6 L428.9,811.4 L429.2,812.2 L429.5,813 L429.8,813.7 L430.1,814.4 L430.3,815.2 L430.6,815.9 L430.9,816.5 L431.2,817.2 L431.5,817.8 L431.8,818.4 L432.1,818.9 L432.3,819.4 L432.6,819.9 L432.9,820.4 L433.2,820.8 L433.5,821.1 L433.7,821.5 L434,821.7 L434.3,822 L434.5,822.1 L434.8,822.3 L435.1,822.4 L435.3,822.4 L435.6,822.4 L435.9,822.4 L436.1,822.3 L436.4,822.2 L436.6,822 L436.9,821.8 L437.1,821.5 L437.4,821.2 L437.6,820.9 L437.8,820.5 L438.1,820.1 L438.3,819.6 L438.6,819.1 L438.8,818.5 L439,818 L439.3,817.4 L439.5,816.7 L439.7,816.1 L439.9,815.4 L440.2,814.6 L440.4,813.9 L440.6,813.1 L440.8,812.4 L441.1,811.6 L441.3,810.8 L441.5,809.9 L441.7,809.1 L442,808.3 L442.2,807.5 L442.4,806.6 L442.6,805.8 L442.8,805 L443.1,804.2 L443.3,803.4 L443.5,802.6 L443.7,801.8 L443.9,801 L444.2,800.3 L444.4,799.5 L444.6,798.8 L444.8,798.1 L445.1,797.5 L445.3,796.9 L445.5,796.3 L445.8,795.7 L446,795.2 L446.2,794.7 L446.5,794.2 L446.7,793.8 L446.9,793.4 L447.2,793.1 L447.4,792.8 L447.7,792.5 L447.9,792.3 L448.2,792.1 L448.4,792 L448.7,791.9 L448.9,791.8 L449.2,791.8 L449.4,791.9 L449.7,792 L450,792.1 L450.2,792.3 L450.5,792.5 L450.8,792.7 L451,793 L451.3,793.4 L451.6,793.7 L451.9,794.2 L452.2,794.6 L452.4,795.1 L452.7,795.6 L453,796.2 L453.3,796.7 L453.6,797.4 L453.9,798 L454.2,798.7 L454.5,799.3 L454.8,800.1 L455.1,800.8 L455.4,801.5 L455.7,802.3 L456,803.1 L456.3,803.9 L456.6,804.7 L456.9,805.5 L457.2,806.3 L457.5,807.1 L457.8,807.9 L458.1,808.7 L458.4,809.5 L458.7,810.3 L459,811.1 L459.3,811.9 L459.6,812.7 L459.9,813.4 L460.2,814.2 L460.5,814.9 L460.8,815.6 L461.1,816.3 L461.4,816.9 L461.7,817.6 L461.9,818.2 L462.2,818.7 L462.5,819.3 L462.8,819.8 L463.1,820.2 L463.4,820.7 L463.7,821.1 L463.9,821.4 L464.2,821.7 L464.5,822 L464.8,822.3 L465.1,822.5 L465.3,822.6 L465.6,822.8 L465.9,822.8 L466.1,822.9 L466.4,822.9 L466.6,822.8 L466.9,822.7 L467.1,822.6 L467.4,822.4 L467.6,822.2 L467.9,821.9 L468.1,821.6 L468.4,821.3 L468.6,820.9 L468.9,820.5 L469.1,820.1 L469.3,819.6 L469.6,819.1 L469.8,818.5 L470,817.9 L470.2,817.3 L470.5,816.7 L470.7,816 L470.9,815.3 L471.1,814.6 L471.4,813.8 L471.6,813.1 L471.8,812.3 L472,811.5 L472.2,810.7 L472.4,809.9 L472.6,809 L472.8,808.2 L473.1,807.3 L473.3,806.5 L473.5,805.6 L473.7,804.8 L473.9,803.9 L474.1,803 L474.3,802.2 L474.5,801.4 L474.7,800.5 L475,799.7 L475.2,798.9 L475.4,798.1 L475.6,797.4 L475.8,796.6 L476,795.9 L476.2,795.2 L476.5,794.5 L476.7,793.9 L476.9,793.2 L477.1,792.6 L477.3,792.1 L477.6,791.5 L477.8,791.1 L478,790.6 L478.3,790.2 L478.5,789.8 L478.7,789.4 L479,789.1 L479.2,788.8 L479.5,788.6 L479.7,788.4 L480,788.2 L480.2,788.1 L480.5,788 L480.7,788 L481,788 L481.2,788 L481.5,788.1 L481.8,788.2 L482,788.4 L482.3,788.6 L482.6,788.9 L482.9,789.1 L483.1,789.5 L483.4,789.8 L483.7,790.2 L484,790.6 L484.3,791.1 L484.6,791.6 L484.8,792.1 L485.1,792.7 L485.4,793.3 L485.7,793.9 L486,794.5 L486.3,795.2 L486.6,795.9 L486.9,796.6 L487.2,797.3 L487.6,798.1 L487.9,798.8 L488.2,799.6 L488.5,800.4 L488.8,801.2 L489.1,802 L489.4,802.8 L489.7,803.6 L490,804.4 L490.3,805.2 L490.7,806 L491,806.9 L491.3,807.7 L491.6,808.5 L491.9,809.3 L492.2,810 L492.5,810.8 L492.8,811.6 L493.1,812.3 L493.5,813 L493.8,813.7 L494.1,814.4 L494.4,815 L494.7,815.7 L495,816.3 L495.3,816.9 L495.6,817.4 L495.9,817.9 L496.2,818.4 L496.4,818.9 L496.7,819.3 L497,819.7 L497.3,820 L497.6,820.3 L497.9,820.6 L498.2,820.9 L498.4,821.1 L498.7,821.2 L499,821.3 L499.2,821.4 L499.5,821.5 L499.8,821.5 L500,821.4 L500.3,821.4 L500.5,821.2 L500.8,821.1 L501,820.9 L501.3,820.7 L501.5,820.4 L501.8,820.1 L502,819.7 L502.2,819.3 L502.5,818.9 L502.7,818.5 L502.9,818 L503.1,817.5 L503.4,816.9 L503.6,816.3 L503.8,815.7 L504,815.1 L504.2,814.4 L504.5,813.7 L504.7,813 L504.9,812.2 L505.1,811.5 L505.3,810.7 L505.5,809.9 L505.7,809.1 L505.9,808.2 L506.1,807.4 L506.3,806.5 L506.5,805.7 L506.7,804.8 L506.9,803.9 L507.1,803 L507.3,802.2 L507.5,801.3 L507.7,800.4 L507.9,799.5 L508.1,798.6 L508.3,797.8 L508.5,796.9 L508.6,796.1 L508.8,795.2 L509,794.4 L509.2,793.6 L509.4,792.8 L509.6,792 L509.9,791.3 L510.1,790.6 L510.3,789.8 L510.5,789.2 L510.7,788.5 L510.9,787.9 L511.1,787.3 L511.3,786.7 L511.5,786.2 L511.8,785.6 L512,785.2 L512.2,784.7 L512.4,784.3 L512.7,783.9 L512.9,783.6 L513.1,783.3 L513.4,783 L513.6,782.8 L513.8,782.6 L514.1,782.4 L514.3,782.3 L514.6,782.2 L514.8,782.2 L515.1,782.2 L515.3,782.2 L515.6,782.3 L515.9,782.4 L516.1,782.6 L516.4,782.7 L516.7,783 L517,783.2 L517.2,783.5 L517.5,783.8 L517.8,784.2 L518.1,784.6 L518.4,785 L518.7,785.5 L519,786 L519.3,786.5 L519.6,787 L519.9,787.6 L520.2,788.2 L520.5,788.8 L520.8,789.5 L521.1,790.2 L521.4,790.8 L521.7,791.5 L522,792.3 L522.4,793 L522.7,793.8 L523,794.5 L523.3,795.3 L523.6,796.1 L524,796.9 L524.3,797.7 L524.6,798.5 L524.9,799.3 L525.3,800.1 L525.6,800.9 L525.9,801.7 L526.2,802.5 L526.6,803.3 L526.9,804.1 L527.2,804.9 L527.5,805.7 L527.8,806.4 L528.2,807.2 L528.5,807.9 L528.8,808.6 L529.1,809.3 L529.4,810 L529.8,810.7 L530.1,811.3 L530.4,811.9 L530.7,812.5 L531,813.1 L531.3,813.6 L531.6,814.1 L531.9,814.6 L532.2,815.1 L532.5,815.5 L532.8,815.9 L533.1,816.3 L533.4,816.6 L533.7,816.9 L534,817.1 L534.2,817.3 L534.5,817.5 L534.8,817.7 L535.1,817.8 L535.3,817.9 L535.6,817.9 L535.9,817.9 L536.1,817.9 L536.4,817.8 L536.6,817.7 L536.9,817.6 L537.1,817.4 L537.4,817.2 L537.6,816.9 L537.8,816.7 L538.1,816.3 L538.3,816 L538.5,815.6 L538.8,815.2 L539,814.7 L539.2,814.2 L539.4,813.7 L539.6,813.1 L539.8,812.6 L540,812 L540.2,811.3 L540.4,810.7 L540.6,810 L540.8,809.3 L541,808.5 L541.2,807.8 L541.4,807 L541.6,806.2 L541.8,805.4 L542,804.5 L542.1,803.7 L542.3,802.8 L542.5,802 L542.7,801.1 L542.9,800.2 L543,799.3 L543.2,798.4 L543.4,797.5 L543.6,796.5 L543.7,795.6 L543.9,794.7 L544.1,793.8 L544.2,792.9 L544.4,792 L544.6,791.1 L544.8,790.2 L544.9,789.3 L545.1,788.4 L545.3,787.5 L545.5,786.7 L545.6,785.8 L545.8,785 L546,784.2 L546.2,783.4 L546.4,782.6 L546.5,781.9 L546.7,781.1 L546.9,780.4 L547.1,779.7 L547.3,779.1 L547.5,778.5 L547.7,777.8 L547.9,777.3 L548.1,776.7 L548.3,776.2 L548.5,775.7 L548.7,775.2 L548.9,774.8 L549.1,774.4 L549.3,774 L549.6,773.7 L549.8,773.4 L550,773.1 L550.3,772.9 L550.5,772.7 L550.7,772.6 L551,772.4 L551.2,772.3 L551.5,772.3 L551.7,772.3 L552,772.3 L552.2,772.3 L552.5,772.4 L552.8,772.5 L553,772.7 L553.3,772.9 L553.6,773.1 L553.9,773.4 L554.1,773.7 L554.4,774 L554.7,774.3 L555,774.7 L555.3,775.1 L555.6,775.6 L555.9,776 L556.2,776.5 L556.5,777 L556.8,777.6 L557.2,778.1 L557.5,778.7 L557.8,779.4 L558.1,780 L558.4,780.7 L558.8,781.3 L559.1,782 L559.4,782.7 L559.8,783.5 L560.1,784.2 L560.4,785 L560.8,785.7 L561.1,786.5 L561.5,787.3 L561.8,788.1 L562.1,788.9 L562.5,789.7 L562.8,790.5 L563.2,791.3 L563.5,792.1 L563.9,792.9 L564.2,793.7 L564.6,794.5 L564.9,795.4 L565.2,796.1 L565.6,796.9 L565.9,797.7 L566.3,798.5 L566.6,799.2 L567,800 L567.3,800.7 L567.6,801.4 L568,802.1 L568.3,802.8 L568.6,803.5 L569,804.1 L569.3,804.8 L569.6,805.4 L570,806 L570.3,806.5 L570.6,807.1 L570.9,807.6 L571.2,808 L571.5,808.5 L571.8,808.9 L572.2,809.3 L572.5,809.7 L572.8,810 L573,810.3 L573.3,810.6 L573.6,810.9 L573.9,811.1 L574.2,811.2 L574.5,811.4 L574.8,811.5 L575,811.6 L575.3,811.6 L575.6,811.6 L575.8,811.6 L576.1,811.6 L576.3,811.5 L576.6,811.4 L576.8,811.2 L577.1,811 L577.3,810.8 L577.5,810.5 L577.7,810.2 L578,809.9 L578.2,809.6 L578.4,809.2 L578.6,808.8 L578.8,808.3 L579,807.8 L579.2,807.3 L579.4,806.8 L579.6,806.2 L579.8,805.6 L580,805 L580.2,804.4 L580.4,803.7 L580.6,803 L580.7,802.3 L580.9,801.5 L581.1,800.8 L581.3,800 L581.4,799.2 L581.6,798.3 L581.7,797.5 L581.9,796.7 L582.1,795.8 L582.2,794.9 L582.4,794 L582.5,793.1 L582.7,792.2 L582.8,791.3 L583,790.3 L583.1,789.4 L583.3,788.5 L583.4,787.5 L583.6,786.6 L583.7,785.6 L583.9,784.7 L584,783.7 L584.2,782.8 L584.3,781.8 L584.4,780.9 L584.6,780 L584.7,779 L584.9,778.1 L585,777.2 L585.2,776.3 L585.3,775.5 L585.5,774.6 L585.6,773.7 L585.8,772.9 L586,772.1 L586.1,771.3 L586.3,770.5 L586.4,769.8 L586.6,769 L586.8,768.3 L587,767.6 L587.1,767 L587.3,766.3 L587.5,765.7 L587.7,765.1 L587.9,764.5 L588,764 L588.2,763.5 L588.4,763 L588.6,762.6 L588.8,762.1 L589.1,761.8 L589.3,761.4 L589.5,761.1 L589.7,760.8 L589.9,760.5 L590.1,760.3 L590.4,760.1 L590.6,759.9 L590.9,759.8 L591.1,759.7 L591.3,759.6 L591.6,759.6 L591.9,759.6 L592.1,759.6 L592.4,759.7 L592.6,759.8 L592.9,759.9 L593.2,760.1 L593.5,760.3 L593.8,760.5 L594,760.8 L594.3,761.1 L594.6,761.4 L594.9,761.7 L595.2,762.1 L595.5,762.5 L595.8,762.9 L596.2,763.4 L596.5,763.9 L596.8,764.4 L597.1,764.9 L597.4,765.5 L597.8,766.1 L598.1,766.7 L598.4,767.3 L598.8,767.9 L599.1,768.6 L599.5,769.3 L599.8,770 L600.1,770.7 L600.5,771.4 L600.8,772.1 L601.2,772.9 L601.6,773.6 L601.9,774.4 L602.3,775.2 L602.6,776 L603,776.7 L603.3,777.5 L603.7,778.3 L604.1,779.1 L604.4,780 L604.8,780.8 L605.1,781.6 L605.5,782.4 L605.9,783.2 L606.2,783.9 L606.6,784.7 L606.9,785.5 L607.3,786.3 L607.6,787 L608,787.8 L608.3,788.5 L608.7,789.2 L609,790 L609.4,790.7 L609.7,791.3 L610.1,792 L610.4,792.6 L610.8,793.3 L611.1,793.9 L611.4,794.4 L611.8,795 L612.1,795.5 L612.4,796 L612.7,796.5 L613.1,797 L613.4,797.4 L613.7,797.8 L614,798.2 L614.3,798.6 L614.6,798.9 L614.9,799.2 L615.2,799.4 L615.5,799.7 L615.8,799.9 L616,800 L616.3,800.2 L616.6,800.3 L616.9,800.4 L617.1,800.4 L617.4,800.4 L617.6,800.4 L617.9,800.3 L618.1,800.2 L618.4,800.1 L618.6,800 L618.9,799.8 L619.1,799.5 L619.3,799.3 L619.5,799 L619.8,798.7 L620,798.3 L620.2,798 L620.4,797.6 L620.6,797.1 L620.8,796.6 L621,796.1 L621.2,795.6 L621.3,795.1 L621.5,794.5 L621.7,793.9 L621.9,793.2 L622.1,792.6 L622.2,791.9 L622.4,791.2 L622.6,790.4 L622.7,789.7 L622.9,788.9 L623,788.1 L623.2,787.3 L623.3,786.5 L623.5,785.6 L623.6,784.8 L623.7,783.9 L623.9,783 L624,782.1 L624.2,781.2 L624.3,780.3 L624.4,779.3 L624.6,778.4 L624.7,777.4 L624.8,776.5 L625,775.5 L625.1,774.6 L625.2,773.6 L625.3,772.6 L625.5,771.7 L625.6,770.7 L625.7,769.8 L625.8,768.8 L626,767.8 L626.1,766.9 L626.2,766 L626.4,765 L626.5,764.1 L626.6,763.2 L626.8,762.3 L626.9,761.4 L627,760.6 L627.2,759.7 L627.3,758.9 L627.5,758.1 L627.6,757.3 L627.8,756.5 L627.9,755.7 L628.1,755 L628.2,754.3 L628.4,753.6 L628.6,752.9 L628.7,752.2 L628.9,751.6 L629.1,751 L629.2,750.5 L629.4,749.9 L629.6,749.4 L629.8,748.9 L630,748.5 L630.2,748 L630.4,747.6 L630.6,747.3 L630.8,746.9 L631,746.6 L631.2,746.4 L631.4,746.1 L631.7,745.9 L631.9,745.7 L632.1,745.6 L632.4,745.5 L632.6,745.4 L632.9,745.3 L633.1,745.3 L633.4,745.3 L633.6,745.4 L633.9,745.5 L634.2,745.6 L634.5,745.7 L634.7,745.9 L635,746.1 L635.3,746.3 L635.6,746.6 L635.9,746.9 L636.2,747.2 L636.5,747.6 L636.8,747.9 L637.1,748.3 L637.4,748.8 L637.8,749.2 L638.1,749.7 L638.4,750.2 L638.8,750.8 L639.1,751.3 L639.4,751.9 L639.8,752.5 L640.1,753.1 L640.5,753.8 L640.8,754.4 L641.2,755.1 L641.5,755.8 L641.9,756.5 L642.2,757.2 L642.6,757.9 L643,758.7 L643.3,759.4 L643.7,760.2 L644.1,761 L644.4,761.8 L644.8,762.5 L645.2,763.3 L645.6,764.1 L645.9,764.9 L646.3,765.7 L646.7,766.6 L647.1,767.4 L647.4,768.2 L647.8,769 L648.2,769.8 L648.6,770.6 L648.9,771.3 L649.3,772.1 L649.7,772.9 L650.1,773.7 L650.4,774.4 L650.8,775.2 L651.2,775.9 L651.5,776.6 L651.9,777.3 L652.2,778 L652.6,778.7 L653,779.3 L653.3,780 L653.7,780.6 L654,781.2 L654.4,781.7 L654.7,782.3 L655,782.8 L655.4,783.3 L655.7,783.8 L656,784.3 L656.4,784.7 L656.7,785.1 L657,785.5 L657.3,785.8 L657.6,786.2 L657.9,786.4 L658.2,786.7 L658.5,786.9 L658.8,787.2 L659.1,787.3 L659.4,787.5 L659.7,787.6 L659.9,787.7 L660.2,787.7 L660.5,787.7 L660.7,787.7 L661,787.7 L661.2,787.6 L661.5,787.5 L661.7,787.4 L662,787.2 L662.2,787 L662.4,786.8 L662.6,786.5 L662.9,786.2 L663.1,785.9 L663.3,785.5 L663.5,785.1 L663.7,784.7 L663.9,784.3 L664.1,783.8 L664.2,783.3 L664.4,782.8 L664.6,782.2 L664.8,781.6 L664.9,781 L665.1,780.4 L665.3,779.7 L665.4,779 L665.6,778.3 L665.7,777.6 L665.9,776.9 L666,776.1 L666.1,775.3 L666.3,774.5 L666.4,773.7 L666.5,772.8 L666.7,772 L666.8,771.1 L666.9,770.2 L667,769.3 L667.2,768.4 L667.3,767.5 L667.4,766.5 L667.5,765.6 L667.6,764.6 L667.7,763.7 L667.8,762.7 L668,761.7 L668.1,760.8 L668.2,759.8 L668.3,758.8 L668.4,757.8 L668.5,756.9 L668.6,755.9 L668.7,754.9 L668.8,753.9 L668.9,753 L669,752 L669.1,751.1 L669.2,750.1 L669.4,749.2 L669.5,748.3 L669.6,747.4 L669.7,746.5 L669.8,745.6 L669.9,744.8 L670.1,743.9 L670.2,743.1 L670.3,742.3 L670.5,741.5 L670.6,740.7 L670.7,739.9 L670.9,739.2 L671,738.5 L671.2,737.8 L671.3,737.1 L671.5,736.5 L671.6,735.8 L671.8,735.3 L672,734.7 L672.1,734.1 L672.3,733.6 L672.5,733.1 L672.7,732.7 L672.9,732.3 L673.1,731.9 L673.2,731.5 L673.5,731.1 L673.7,730.8 L673.9,730.6 L674.1,730.3 L674.3,730.1 L674.5,729.9 L674.8,729.7 L675,729.6 L675.2,729.5 L675.5,729.5 L675.7,729.4 L676,729.4 L676.2,729.4 L676.5,729.5 L676.8,729.6 L677.1,729.7 L677.3,729.9 L677.6,730.1 L677.9,730.3 L678.2,730.5 L678.5,730.8 L678.8,731.1 L679.1,731.4 L679.4,731.8 L679.7,732.1 L680.1,732.5 L680.4,733 L680.7,733.4 L681,733.9 L681.4,734.4 L681.7,734.9 L682.1,735.5 L682.4,736 L682.8,736.6 L683.1,737.2 L683.5,737.9 L683.8,738.5 L684.2,739.2 L684.5,739.8 L684.9,740.5 L685.3,741.2 L685.7,742 L686,742.7 L686.4,743.4 L686.8,744.2 L687.1,744.9 L687.5,745.7 L687.9,746.5 L688.3,747.3 L688.7,748 L689,748.8 L689.4,749.6 L689.8,750.4 L690.2,751.2 L690.6,752 L690.9,752.7 L691.3,753.5 L691.7,754.3 L692.1,755.1 L692.5,755.8 L692.8,756.6 L693.2,757.3 L693.6,758.1 L694,758.8 L694.3,759.5 L694.7,760.2 L695.1,760.9 L695.4,761.6 L695.8,762.2 L696.1,762.9 L696.5,763.5 L696.8,764.1 L697.2,764.7 L697.5,765.2 L697.9,765.8 L698.2,766.3 L698.5,766.8 L698.9,767.2 L699.2,767.7 L699.5,768.1 L699.8,768.5 L700.1,768.8 L700.4,769.2 L700.7,769.5 L701,769.8 L701.3,770 L701.6,770.3 L701.9,770.5 L702.2,770.6 L702.5,770.8 L702.7,770.9 L703,770.9 L703.2,771 L703.5,771 L703.7,771 L704,770.9 L704.2,770.8 L704.5,770.7 L704.7,770.6 L704.9,770.4 L705.1,770.2 L705.3,769.9 L705.5,769.6 L705.7,769.3 L705.9,769 L706.1,768.6 L706.3,768.2 L706.5,767.8 L706.7,767.3 L706.9,766.8 L707,766.3 L707.2,765.8 L707.4,765.2 L707.5,764.6 L707.7,764 L707.8,763.3 L708,762.7 L708.1,762 L708.2,761.2 L708.4,760.5 L708.5,759.7 L708.6,758.9 L708.7,758.1 L708.9,757.3 L709,756.4 L709.1,755.6 L709.2,754.7 L709.3,753.8 L709.4,752.9 L709.5,752 L709.6,751 L709.7,750.1 L709.8,749.1 L709.9,748.1 L710,747.2 L710.1,746.2 L710.2,745.2 L710.3,744.2 L710.4,743.2 L710.5,742.2 L710.6,741.2 L710.7,740.2 L710.8,739.2 L710.9,738.2 L711,737.2 L711.1,736.2 L711.2,735.2 L711.2,734.2 L711.3,733.3 L711.4,732.3 L711.6,731.4 L711.7,730.4 L711.8,729.5 L711.9,728.6 L712,727.7 L712.1,726.8 L712.2,725.9 L712.3,725.1 L712.5,724.2 L712.6,723.4 L712.7,722.6 L712.8,721.9 L713,721.1 L713.1,720.4 L713.3,719.7 L713.4,719 L713.6,718.4 L713.7,717.8 L713.9,717.2 L714,716.6 L714.2,716 L714.4,715.5 L714.5,715 L714.7,714.6 L714.9,714.2 L715.1,713.8 L715.3,713.4 L715.5,713.1 L715.7,712.8 L715.9,712.5 L716.1,712.2 L716.3,712 L716.6,711.9 L716.8,711.7 L717,711.6 L717.3,711.5 L717.5,711.5 L717.7,711.5 L718,711.5 L718.3,711.5 L718.5,711.6 L718.8,711.7 L719.1,711.9 L719.3,712.1 L719.6,712.3 L719.9,712.5 L720.2,712.8 L720.5,713.1 L720.8,713.4 L721.1,713.7 L721.4,714.1 L721.7,714.5 L722,714.9 L722.3,715.4 L722.6,715.9 L722.9,716.4 L723.3,716.9 L723.6,717.4 L723.9,718 L724.3,718.6 L724.6,719.2 L724.9,719.8 L725.3,720.4 L725.6,721.1 L726,721.7 L726.3,722.4 L726.7,723.1 L727,723.8 L727.3,724.5 L727.7,725.2 L728,726 L728.4,726.7 L728.8,727.4 L729.1,728.2 L729.5,728.9 L729.8,729.7 L730.2,730.4 L730.5,731.2 L730.9,731.9 L731.2,732.7 L731.6,733.4 L731.9,734.1 L732.2,734.9 L732.6,735.6 L732.9,736.3 L733.3,737 L733.6,737.7 L733.9,738.3 L734.3,739 L734.6,739.6 L734.9,740.2 L735.3,740.9 L735.6,741.4 L735.9,742 L736.2,742.6 L736.5,743.1 L736.8,743.6 L737.1,744.1 L737.4,744.5 L737.7,744.9 L738,745.3 L738.3,745.7 L738.6,746.1 L738.9,746.4 L739.2,746.7 L739.4,747 L739.7,747.2 L740,747.4 L740.2,747.6 L740.5,747.7 L740.7,747.8 L741,747.9 L741.2,747.9 L741.4,747.9 L741.7,747.9 L741.9,747.9 L742.1,747.8 L742.3,747.6 L742.5,747.5 L742.7,747.3 L742.9,747.1 L743.1,746.8 L743.3,746.5 L743.5,746.2 L743.7,745.8 L743.9,745.5 L744.1,745 L744.2,744.6 L744.4,744.1 L744.6,743.6 L744.7,743 L744.9,742.5 L745,741.9 L745.2,741.2 L745.3,740.6 L745.5,739.9 L745.6,739.2 L745.8,738.4 L745.9,737.7 L746,736.9 L746.1,736.1 L746.3,735.2 L746.4,734.4 L746.5,733.5 L746.6,732.6 L746.7,731.7 L746.9,730.8 L747,729.9 L747.1,728.9 L747.2,728 L747.3,727 L747.4,726 L747.5,725 L747.6,724 L747.7,723 L747.8,722 L747.9,721 L748.1,720 L748.2,719 L748.3,717.9 L748.4,716.9 L748.5,715.9 L748.6,714.9 L748.7,713.9 L748.8,712.9 L748.9,711.9 L749,711 L749.2,710 L749.3,709.1 L749.4,708.1 L749.5,707.2 L749.6,706.3 L749.8,705.4 L749.9,704.5 L750,703.7 L750.2,702.9 L750.3,702 L750.4,701.3 L750.6,700.5 L750.7,699.8 L750.9,699 L751,698.4 L751.2,697.7 L751.4,697.1 L751.5,696.5 L751.7,695.9 L751.9,695.4 L752,694.9 L752.2,694.4 L752.4,693.9 L752.6,693.5 L752.8,693.2 L753,692.8 L753.2,692.5 L753.4,692.2 L753.6,692 L753.8,691.8 L754,691.6 L754.3,691.5 L754.5,691.3 L754.7,691.3 L754.9,691.2 L755.2,691.2 L755.4,691.3 L755.7,691.3 L755.9,691.4 L756.2,691.6 L756.4,691.7 L756.7,691.9 L756.9,692.2 L757.2,692.4 L757.5,692.7 L757.7,693 L758,693.4 L758.3,693.8 L758.6,694.2 L758.9,694.6 L759.2,695.1 L759.4,695.5 L759.7,696 L760,696.6 L760.3,697.1 L760.6,697.7 L760.9,698.3 L761.2,698.9 L761.5,699.5 L761.8,700.2 L762.1,700.8 L762.4,701.5 L762.8,702.2 L763.1,702.8 L763.4,703.5 L763.7,704.2 L764,705 L764.3,705.7 L764.6,706.4 L764.9,707.1 L765.2,707.8 L765.5,708.6 L765.8,709.3 L766.1,710 L766.4,710.7 L766.7,711.4 L767.1,712.1 L767.4,712.8 L767.7,713.5 L768,714.1 L768.2,714.8 L768.5,715.4 L768.8,716 L769.1,716.6 L769.4,717.2 L769.7,717.8 L770,718.3 L770.3,718.8 L770.5,719.3 L770.8,719.8 L771.1,720.2 L771.3,720.6 L771.6,721 L771.9,721.4 L772.1,721.7 L772.4,722 L772.6,722.3 L772.9,722.5 L773.1,722.8 L773.4,722.9 L773.6,723.1 L773.8,723.2 L774.1,723.3 L774.3,723.3 L774.5,723.3 L774.7,723.3 L774.9,723.2 L775.2,723.1 L775.4,723 L775.6,722.8 L775.8,722.6 L776,722.3 L776.2,722 L776.3,721.7 L776.5,721.4 L776.7,721 L776.9,720.6 L777.1,720.1 L777.2,719.6 L777.4,719.1 L777.6,718.6 L777.7,718 L777.9,717.4 L778.1,716.7 L778.2,716 L778.4,715.3 L778.5,714.6 L778.7,713.8 L778.8,713.1 L779,712.2 L779.1,711.4 L779.2,710.6 L779.4,709.7 L779.5,708.8 L779.7,707.9 L779.8,707 L779.9,706 L780,705.1 L780.2,704.1 L780.3,703.1 L780.4,702.1 L780.6,701.1 L780.7,700.1 L780.8,699.1 L781,698.1 L781.1,697.1 L781.2,696 L781.3,695 L781.5,694 L781.6,693 L781.7,692 L781.9,691 L782,690 L782.1,689 L782.3,688 L782.4,687.1 L782.5,686.1 L782.7,685.2 L782.8,684.3 L782.9,683.4 L783.1,682.5 L783.2,681.6 L783.4,680.8 L783.5,680 L783.7,679.2 L783.8,678.4 L784,677.7 L784.2,677 L784.3,676.3 L784.5,675.6 L784.7,675 L784.8,674.4 L785,673.9 L785.2,673.3 L785.4,672.8 L785.5,672.4 L785.7,672 L785.9,671.6 L786.1,671.2 L786.3,670.9 L786.5,670.6 L786.7,670.4 L786.9,670.2 L787.1,670 L787.3,669.8 L787.5,669.7 L787.8,669.7 L788,669.6 L788.2,669.6 L788.4,669.7 L788.7,669.8 L788.9,669.9 L789.1,670 L789.4,670.2 L789.6,670.4 L789.9,670.7 L790.1,670.9 L790.4,671.3 L790.6,671.6 L790.9,672 L791.1,672.4 L791.4,672.8 L791.7,673.2 L791.9,673.7 L792.2,674.2 L792.5,674.8 L792.7,675.3 L793,675.9 L793.3,676.5 L793.6,677.1 L793.8,677.7 L794.1,678.3 L794.4,679 L794.7,679.7 L795,680.3 L795.3,681 L795.5,681.7 L795.8,682.4 L796.1,683.1 L796.4,683.8 L796.7,684.6 L797,685.3 L797.3,686 L797.6,686.7 L797.8,687.4 L798.1,688.1 L798.4,688.8 L798.7,689.5 L799,690.1 L799.3,690.8 L799.6,691.4 L799.8,692.1 L800.1,692.7 L800.4,693.3 L800.7,693.9 L800.9,694.4 L801.2,695 L801.5,695.5 L801.8,696 L802,696.4 L802.3,696.9 L802.6,697.3 L802.8,697.7 L803.1,698 L803.3,698.3 L803.6,698.6 L803.8,698.9 L804.1,699.1 L804.3,699.3 L804.6,699.5 L804.8,699.6 L805,699.7 L805.3,699.8 L805.5,699.8 L805.7,699.8 L806,699.7 L806.2,699.6 L806.4,699.5 L806.6,699.3 L806.8,699.1 L807,698.9 L807.2,698.6 L807.4,698.3 L807.6,698 L807.8,697.6 L808,697.2 L808.2,696.7 L808.4,696.2 L808.5,695.7 L808.7,695.2 L808.9,694.6 L809.1,694 L809.2,693.3 L809.4,692.7 L809.5,692 L809.7,691.2 L809.9,690.5 L810,689.7 L810.2,688.9 L810.3,688.1 L810.5,687.2 L810.6,686.3 L810.7,685.4 L810.9,684.5 L811,683.6 L811.2,682.7 L811.3,681.7 L811.4,680.7 L811.6,679.8 L811.7,678.8 L811.8,677.8 L812,676.8 L812.1,675.8 L812.2,674.7 L812.3,673.7 L812.5,672.7 L812.6,671.7 L812.7,670.7 L812.9,669.7 L813,668.7 L813.1,667.7 L813.3,666.7 L813.4,665.7 L813.5,664.8 L813.7,663.8 L813.8,662.9 L813.9,662 L814.1,661.1 L814.2,660.2 L814.3,659.3 L814.5,658.5 L814.6,657.7 L814.8,656.9 L814.9,656.1 L815.1,655.4 L815.2,654.7 L815.4,654 L815.6,653.3 L815.7,652.7 L815.9,652.1 L816.1,651.5 L816.2,651 L816.4,650.5 L816.6,650.1 L816.8,649.6 L817,649.2 L817.1,648.9 L817.3,648.6 L817.5,648.3 L817.7,648 L817.9,647.8 L818.1,647.6 L818.4,647.5 L818.6,647.4 L818.8,647.3 L819,647.3 L819.2,647.3 L819.5,647.3 L819.7,647.4 L819.9,647.5 L820.2,647.6 L820.4,647.8 L820.7,648 L820.9,648.3 L821.2,648.6 L821.4,648.9 L821.7,649.2 L822,649.6 L822.2,650 L822.5,650.4 L822.8,650.9 L823.1,651.3 L823.4,651.8 L823.6,652.4 L823.9,652.9 L824.2,653.5 L824.5,654.1 L824.8,654.7 L825.1,655.3 L825.4,656 L825.7,656.6 L826,657.3 L826.3,658 L826.6,658.7 L826.9,659.4 L827.2,660.1 L827.5,660.8 L827.8,661.5 L828.2,662.2 L828.5,662.9 L828.8,663.7 L829.1,664.4 L829.4,665.1 L829.7,665.8 L830,666.5 L830.3,667.2 L830.7,667.9 L831,668.6 L831.3,669.3 L831.6,669.9 L831.9,670.6 L832.2,671.2 L832.5,671.8 L832.8,672.4 L833.1,672.9 L833.4,673.5 L833.7,674 L834,674.5 L834.3,675 L834.6,675.4 L834.9,675.9 L835.2,676.3 L835.5,676.6 L835.7,677 L836,677.3 L836.3,677.6 L836.6,677.8 L836.8,678 L837.1,678.2 L837.4,678.4 L837.6,678.5 L837.9,678.6 L838.1,678.6 L838.4,678.6 L838.6,678.6 L838.8,678.5 L839.1,678.4 L839.3,678.3 L839.5,678.1 L839.8,678 L840,677.7 L840.2,677.5 L840.4,677.2 L840.6,676.8 L840.8,676.5 L841,676.1 L841.2,675.6 L841.4,675.2 L841.6,674.7 L841.8,674.1 L841.9,673.6 L842.1,673 L842.3,672.4 L842.4,671.7 L842.6,671 L842.8,670.3 L842.9,669.6 L843.1,668.9 L843.2,668.1 L843.3,667.3 L843.5,666.5 L843.6,665.6 L843.7,664.8 L843.9,663.9 L844,663 L844.1,662.1 L844.3,661.2 L844.4,660.3 L844.5,659.3 L844.6,658.4 L844.7,657.4 L844.8,656.4 L844.9,655.4 L845.1,654.5 L845.2,653.5 L845.3,652.5 L845.4,651.5 L845.5,650.5 L845.6,649.5 L845.7,648.5 L845.8,647.6 L845.9,646.6 L846,645.6 L846.1,644.7 L846.2,643.7 L846.3,642.8 L846.4,641.9 L846.5,640.9 L846.6,640.1 L846.7,639.2 L846.9,638.3 L847,637.5 L847.1,636.6 L847.2,635.8 L847.3,635 L847.5,634.3 L847.6,633.5 L847.7,632.8 L847.8,632.1 L848,631.5 L848.1,630.8 L848.3,630.2 L848.4,629.6 L848.6,629.1 L848.7,628.6 L848.9,628.1 L849,627.6 L849.2,627.2 L849.4,626.8 L849.6,626.4 L849.7,626.1 L849.9,625.7 L850.1,625.5 L850.3,625.2 L850.5,625 L850.7,624.8 L850.9,624.7 L851.2,624.6 L851.4,624.5 L851.6,624.5 L851.8,624.4 L852.1,624.5 L852.3,624.5 L852.6,624.6 L852.8,624.7 L853.1,624.9 L853.4,625 L853.6,625.3 L853.9,625.5 L854.2,625.8 L854.5,626.1 L854.8,626.4 L855.1,626.7 L855.4,627.1 L855.7,627.5 L856,628 L856.3,628.4 L856.6,628.9 L857,629.4 L857.3,629.9 L857.6,630.5 L858,631 L858.3,631.6 L858.7,632.2 L859,632.8 L859.4,633.5 L859.7,634.1 L860.1,634.8 L860.5,635.5 L860.8,636.2 L861.2,636.9 L861.6,637.6 L861.9,638.3 L862.3,639.1 L862.7,639.8 L863.1,640.5 L863.5,641.3 L863.8,642 L864.2,642.8 L864.6,643.5 L865,644.3 L865.4,645 L865.8,645.8 L866.2,646.5 L866.6,647.3 L866.9,648 L867.3,648.7 L867.7,649.5 L868.1,650.2 L868.5,650.9 L868.9,651.6 L869.3,652.2 L869.6,652.9 L870,653.5 L870.4,654.2 L870.8,654.8 L871.1,655.4 L871.5,656 L871.9,656.5 L872.2,657.1 L872.6,657.6 L872.9,658.1 L873.3,658.6 L873.6,659 L874,659.5 L874.3,659.9 L874.7,660.3 L875,660.6 L875.3,660.9 L875.6,661.2 L875.9,661.5 L876.2,661.8 L876.6,662 L876.8,662.2 L877.1,662.3 L877.4,662.5 L877.7,662.6 L878,662.7 L878.3,662.7 L878.5,662.7 L878.8,662.7 L879,662.6 L879.3,662.6" fill="none" stroke="#cfcdd2" stroke-width="3.4" opacity="0.8"/>
<path d="M869.2,612.1 L869.4,612.2 L869.6,612.3 L869.8,612.5 L870,612.8 L870.3,613.1 L870.5,613.5 L870.8,613.9 L871,614.3 L871.3,614.8 L871.6,615.4 L871.8,616 L872.1,616.6 L872.4,617.3 L872.7,618 L873.1,618.7 L873.4,619.5 L873.7,620.3 L874.1,621.2 L874.4,622 L874.8,623 L875.1,623.9 L875.5,624.9 L875.9,625.9 L876.2,626.9 L876.6,627.9 L877,629 L877.4,630.1 L877.8,631.2 L878.2,632.3 L878.6,633.4 L879,634.6 L879.4,635.7 L879.8,636.9 L880.3,638.1 L880.7,639.2 L881.1,640.4 L881.5,641.6 L881.9,642.7 L882.3,643.9 L882.7,645 L883.2,646.2 L883.6,647.3 L884,648.4 L884.4,649.5 L884.8,650.6 L885.2,651.7 L885.6,652.7 L886,653.7 L886.3,654.7 L886.7,655.7 L887.1,656.6 L887.5,657.5 L887.8,658.4 L888.2,659.3 L888.5,660.1 L888.9,660.8 L889.2,661.6 L889.5,662.3 L889.9,662.9 L890.2,663.5 L890.5,664.1 L890.8,664.6 L891,665.1 L891.3,665.6 L891.6,666 L891.8,666.3 L892.1,666.6 L892.3,666.9 L892.5,667.1 L892.7,667.2 L892.9,667.3 L893.1,667.4 L893.3,667.4 L893.5,667.4 L893.6,667.3 L893.8,667.2 L893.9,667 L894.1,666.8 L894.2,666.6 L894.3,666.3 L894.4,665.9 L894.5,665.5 L894.6,665.1 L894.6,664.6 L894.7,664.1 L894.7,663.5 L894.8,663 L894.8,662.3 L894.8,661.7 L894.8,661 L894.9,660.3 L894.9,659.5 L894.9,658.7 L894.8,657.9 L894.8,657.1 L894.8,656.3 L894.8,655.4 L894.7,654.5 L894.7,653.6 L894.7,652.7 L894.6,651.8 L894.6,650.8 L894.5,649.9 L894.5,648.9 L894.4,647.9 L894.3,647 L894.3,646 L894.2,645.1 L894.2,644.1 L894.1,643.2 L894.1,642.2 L894,641.3 L894,640.4 L893.9,639.5 L893.9,638.6 L893.8,637.7 L893.8,636.9 L893.7,636.1 L893.7,635.3 L893.7,634.5 L893.7,633.8 L893.7,633.1 L893.7,632.4 L893.7,631.8 L893.7,631.2 L893.7,630.6 L893.7,630.1 L893.8,629.6 L893.8,629.1 L893.9,628.7 L894,628.3 L894,628 L894.1,627.7 L894.2,627.5 L894.3,627.3 L894.5,627.1 L894.6,627 L894.8,627 L894.9,627 L895.1,627 L895.3,627.1 L895.4,627.2 L895.7,627.4 L895.9,627.6 L896.1,627.9 L896.3,628.2 L896.6,628.6 L896.9,629 L897.1,629.4 L897.4,629.9 L897.7,630.5 L898,631.1 L898.3,631.7 L898.7,632.4 L899,633.1 L899.3,633.8 L899.7,634.6 L900.1,635.4 L900.5,636.2 L900.8,637.1 L901.2,638 L901.6,638.9 L902,639.8 L902.5,640.8 L902.9,641.8 L903.3,642.8 L903.7,643.9 L904.2,644.9 L904.6,646 L905.1,647 L905.5,648.1 L906,649.2 L906.4,650.3 L906.9,651.4 L907.4,652.5 L907.8,653.6 L908.3,654.6 L908.7,655.7 L909.2,656.8 L909.6,657.9 L910.1,658.9 L910.5,659.9 L911,661 L911.4,662 L911.9,662.9 L912.3,663.9 L912.7,664.8 L913.1,665.7 L913.6,666.6 L914,667.4 L914.4,668.3 L914.7,669 L915.1,669.8 L915.5,670.5 L915.9,671.1 L916.2,671.8 L916.5,672.4 L916.9,672.9 L917.2,673.4 L917.5,673.9 L917.8,674.3 L918.1,674.6 L918.4,675 L918.6,675.2 L918.9,675.5 L919.1,675.7 L919.3,675.8 L919.5,675.9 L919.7,675.9 L919.9,675.9 L920.1,675.9 L920.2,675.8 L920.4,675.6 L920.5,675.4 L920.6,675.2 L920.7,674.9 L920.8,674.6 L920.9,674.2 L921,673.8 L921,673.4 L921,672.9 L921.1,672.4 L921.1,671.8 L921.1,671.2 L921.1,670.6 L921.1,669.9 L921.1,669.2 L921.1,668.5 L921,667.7 L921,667 L920.9,666.2 L920.9,665.3 L920.8,664.5 L920.7,663.6 L920.7,662.8 L920.6,661.9 L920.5,661 L920.4,660.1 L920.3,659.2 L920.3,658.3 L920.2,657.3 L920.1,656.4 L920,655.5 L919.9,654.6 L919.8,653.7 L919.7,652.8 L919.7,652 L919.6,651.1 L919.5,650.3 L919.4,649.4 L919.4,648.6 L919.3,647.9 L919.3,647.1 L919.2,646.4 L919.2,645.7 L919.2,645 L919.1,644.4 L919.1,643.8 L919.1,643.2 L919.1,642.7 L919.2,642.2 L919.2,641.7 L919.3,641.3 L919.3,640.9 L919.4,640.6 L919.5,640.3 L919.6,640.1 L919.7,639.9 L919.8,639.7 L920,639.6 L920.1,639.5 L920.3,639.5 L920.5,639.6 L920.7,639.6 L920.9,639.8 L921.1,639.9 L921.4,640.2 L921.6,640.4 L921.9,640.7 L922.2,641.1 L922.5,641.5 L922.8,641.9 L923.1,642.4 L923.4,643 L923.8,643.5 L924.1,644.1 L924.5,644.8 L924.9,645.5 L925.3,646.2 L925.7,647 L926.1,647.7 L926.6,648.6 L927,649.4 L927.4,650.3 L927.9,651.2 L928.4,652.1 L928.8,653 L929.3,653.9 L929.8,654.9 L930.3,655.9 L930.8,656.9 L931.2,657.9 L931.7,658.9 L932.2,659.9 L932.7,660.9 L933.2,661.9 L933.7,662.9 L934.2,663.9 L934.7,664.9 L935.2,665.9 L935.7,666.8 L936.2,667.8 L936.7,668.7 L937.1,669.7 L937.6,670.6 L938.1,671.4 L938.5,672.3 L939,673.1 L939.4,673.9 L939.8,674.7 L940.2,675.4 L940.7,676.1 L941,676.8 L941.4,677.4 L941.8,678 L942.2,678.5 L942.5,679 L942.8,679.5 L943.2,679.9 L943.5,680.3 L943.8,680.6 L944,680.9 L944.3,681.1 L944.5,681.3 L944.8,681.5 L945,681.6 L945.2,681.6 L945.4,681.6 L945.6,681.6 L945.7,681.5 L945.9,681.3 L946,681.1 L946.1,680.9 L946.2,680.6 L946.3,680.3 L946.3,680 L946.4,679.5 L946.4,679.1 L946.5,678.6 L946.5,678.1 L946.5,677.5 L946.5,676.9 L946.5,676.3 L946.5,675.7 L946.4,675 L946.4,674.2 L946.3,673.5 L946.3,672.7 L946.2,672 L946.1,671.1 L946,670.3 L945.9,669.5 L945.9,668.6 L945.8,667.8 L945.7,666.9 L945.6,666 L945.5,665.2 L945.4,664.3 L945.3,663.4 L945.2,662.5 L945.1,661.7 L945,660.8 L944.9,660 L944.8,659.1 L944.7,658.3 L944.6,657.5 L944.6,656.7 L944.5,656 L944.5,655.2 L944.4,654.5 L944.4,653.9 L944.4,653.2 L944.3,652.6 L944.3,652 L944.3,651.5 L944.4,651 L944.4,650.5 L944.4,650.1 L944.5,649.7 L944.6,649.4 L944.7,649.1 L944.8,648.8 L944.9,648.6 L945,648.5 L945.1,648.3 L945.3,648.3 L945.5,648.2 L945.7,648.3 L945.9,648.4 L946.1,648.5 L946.3,648.6 L946.6,648.9 L946.9,649.1 L947.2,649.4 L947.5,649.8 L947.8,650.2 L948.1,650.6 L948.4,651.1 L948.8,651.6 L949.2,652.2 L949.6,652.8 L949.9,653.4 L950.4,654.1 L950.8,654.8 L951.2,655.6 L951.6,656.3 L952.1,657.1 L952.5,658 L953,658.8 L953.5,659.7 L953.9,660.6 L954.4,661.5 L954.9,662.4 L955.4,663.4 L955.9,664.3 L956.4,665.3 L956.9,666.3 L957.4,667.2 L957.9,668.2 L958.4,669.2 L958.9,670.2 L959.4,671.1 L959.9,672.1 L960.4,673 L960.9,673.9 L961.3,674.9 L961.8,675.8 L962.3,676.6 L962.7,677.5 L963.2,678.3 L963.6,679.1 L964.1,679.9 L964.5,680.6 L964.9,681.3 L965.3,682 L965.7,682.6 L966.1,683.2 L966.4,683.8 L966.8,684.3 L967.1,684.8 L967.4,685.2 L967.8,685.6 L968,686 L968.3,686.3 L968.6,686.5 L968.8,686.7 L969.1,686.9 L969.3,687 L969.5,687 L969.7,687.1 L969.9,687 L970,687 L970.2,686.8 L970.3,686.7 L970.4,686.4 L970.5,686.2 L970.6,685.9 L970.6,685.5 L970.7,685.1 L970.7,684.7 L970.8,684.2 L970.8,683.7 L970.8,683.2 L970.8,682.6 L970.8,682 L970.7,681.3 L970.7,680.6 L970.7,679.9 L970.6,679.2 L970.6,678.4 L970.5,677.7 L970.4,676.9 L970.3,676 L970.3,675.2 L970.2,674.4 L970.1,673.5 L970,672.7 L969.9,671.8 L969.8,671 L969.7,670.1 L969.7,669.2 L969.6,668.4 L969.5,667.6 L969.4,666.7 L969.3,665.9 L969.3,665.1 L969.2,664.3 L969.1,663.6 L969.1,662.8 L969.1,662.1 L969,661.4 L969,660.8 L969,660.1 L969,659.5 L969,659 L969,658.4 L969,657.9 L969.1,657.5 L969.1,657.1 L969.2,656.7 L969.3,656.4 L969.4,656.1 L969.5,655.9 L969.6,655.7 L969.8,655.5 L969.9,655.5 L970.1,655.4 L970.3,655.4 L970.5,655.5 L970.7,655.6 L971,655.7 L971.2,655.9 L971.5,656.1 L971.7,656.4 L972,656.7 L972.3,657.1 L972.7,657.5 L973,658 L973.3,658.5 L973.7,659.1 L974.1,659.7 L974.4,660.3 L974.8,660.9 L975.2,661.6 L975.7,662.4 L976.1,663.1 L976.5,663.9 L977,664.7 L977.4,665.6 L977.9,666.4 L978.3,667.3 L978.8,668.2 L979.3,669.1 L979.7,670.1 L980.2,671 L980.7,672 L981.2,672.9 L981.7,673.9 L982.2,674.8 L982.6,675.8 L983.1,676.7 L983.6,677.7 L984.1,678.6 L984.6,679.5 L985,680.4 L985.5,681.3 L985.9,682.2 L986.4,683.1 L986.8,683.9 L987.3,684.7 L987.7,685.4 L988.1,686.2 L988.5,686.9 L988.9,687.6 L989.3,688.2 L989.7,688.8 L990,689.4 L990.4,689.9 L990.7,690.4 L991.1,690.8 L991.4,691.2 L991.7,691.5 L991.9,691.8 L992.2,692.1 L992.5,692.3 L992.7,692.5 L992.9,692.6 L993.1,692.7 L993.3,692.7 L993.5,692.6 L993.7,692.6 L993.8,692.4 L993.9,692.2 L994.1,692 L994.2,691.8 L994.3,691.4 L994.3,691.1 L994.4,690.7 L994.5,690.2 L994.5,689.8 L994.5,689.2 L994.6,688.7 L994.6,688.1 L994.6,687.5 L994.5,686.8 L994.5,686.1 L994.5,685.4 L994.5,684.7 L994.4,683.9 L994.4,683.1 L994.3,682.4 L994.2,681.5 L994.2,680.7 L994.1,679.9 L994,679 L994,678.2 L993.9,677.3 L993.8,676.5 L993.7,675.7 L993.7,674.8 L993.6,674 L993.5,673.1 L993.5,672.3 L993.4,671.5 L993.4,670.8 L993.3,670 L993.3,669.3 L993.3,668.5 L993.2,667.9 L993.2,667.2 L993.2,666.6 L993.2,666 L993.2,665.4 L993.3,664.9 L993.3,664.4 L993.4,664 L993.4,663.6 L993.5,663.2 L993.6,662.9 L993.7,662.6 L993.8,662.4 L993.9,662.2 L994.1,662.1 L994.3,662 L994.4,661.9 L994.6,661.9 L994.8,662 L995.1,662.1 L995.3,662.3 L995.6,662.5 L995.8,662.7 L996.1,663 L996.4,663.3 L996.7,663.7 L997,664.1 L997.4,664.6 L997.7,665.1 L998.1,665.7 L998.5,666.3 L998.9,666.9 L999.3,667.5 L999.7,668.2 L1000.1,669 L1000.5,669.7 L1000.9,670.5 L1001.4,671.3 L1001.8,672.1 L1002.3,673 L1002.8,673.8 L1003.2,674.7 L1003.7,675.6 L1004.2,676.5 L1004.7,677.4 L1005.1,678.3 L1005.6,679.2 L1006.1,680.1 L1006.6,681.1 L1007.1,682 L1007.5,682.9 L1008,683.7 L1008.5,684.6 L1008.9,685.5 L1009.4,686.3 L1009.8,687.1 L1010.3,687.9 L1010.7,688.7 L1011.1,689.4 L1011.6,690.1 L1012,690.8 L1012.4,691.4 L1012.8,692 L1013.1,692.6 L1013.5,693.1 L1013.8,693.6 L1014.2,694 L1014.5,694.4 L1014.8,694.8 L1015.1,695.1 L1015.4,695.4 L1015.6,695.6 L1015.9,695.8 L1016.1,695.9 L1016.4,696 L1016.6,696 L1016.7,696 L1016.9,695.9 L1017.1,695.8 L1017.2,695.6 L1017.3,695.4 L1017.5,695.2 L1017.6,694.9 L1017.6,694.5 L1017.7,694.1 L1017.8,693.7 L1017.8,693.2 L1017.9,692.7 L1017.9,692.2 L1017.9,691.6 L1017.9,691 L1017.9,690.4 L1017.9,689.7 L1017.8,689 L1017.8,688.3 L1017.8,687.5 L1017.7,686.8 L1017.7,686 L1017.6,685.2 L1017.5,684.4 L1017.5,683.6 L1017.4,682.8 L1017.3,682 L1017.3,681.1 L1017.2,680.3 L1017.1,679.5 L1017.1,678.7 L1017,677.9 L1017,677.1 L1016.9,676.3 L1016.9,675.6 L1016.8,674.9 L1016.8,674.1 L1016.7,673.5 L1016.7,672.8 L1016.7,672.2 L1016.7,671.6 L1016.7,671 L1016.8,670.5 L1016.8,670 L1016.8,669.6 L1016.9,669.2 L1017,668.8 L1017.1,668.5 L1017.2,668.2 L1017.3,668 L1017.4,667.8 L1017.6,667.6 L1017.7,667.5 L1017.9,667.5 L1018.1,667.5 L1018.3,667.5 L1018.5,667.6 L1018.8,667.8 L1019,668 L1019.3,668.2 L1019.6,668.5 L1019.9,668.9 L1020.2,669.2 L1020.5,669.6 L1020.9,670.1 L1021.2,670.6 L1021.6,671.2 L1022,671.7 L1022.4,672.3 L1022.8,673 L1023.2,673.7 L1023.6,674.4 L1024.1,675.1 L1024.5,675.9 L1025,676.7 L1025.4,677.5 L1025.9,678.3 L1026.4,679.1 L1026.8,680 L1027.3,680.8 L1027.8,681.7 L1028.3,682.6 L1028.7,683.4 L1029.2,684.3 L1029.7,685.1 L1030.2,686 L1030.6,686.8 L1031.1,687.7 L1031.6,688.5 L1032,689.3 L1032.5,690.1 L1032.9,690.8 L1033.4,691.5 L1033.8,692.2 L1034.2,692.9 L1034.6,693.5 L1035,694.1 L1035.4,694.7 L1035.8,695.2 L1036.1,695.7 L1036.5,696.2 L1036.8,696.6 L1037.1,696.9 L1037.4,697.2 L1037.7,697.5 L1038,697.7 L1038.2,697.9 L1038.5,698 L1038.7,698.1 L1038.9,698.1 L1039.1,698.1 L1039.3,698.1 L1039.4,697.9 L1039.6,697.8 L1039.7,697.6 L1039.8,697.3 L1039.9,697 L1040,696.7 L1040.1,696.3 L1040.1,695.9 L1040.2,695.4 L1040.2,694.9 L1040.2,694.4 L1040.2,693.8 L1040.2,693.2 L1040.2,692.6 L1040.2,691.9 L1040.2,691.2 L1040.1,690.5 L1040.1,689.8 L1040,689.1 L1040,688.3 L1039.9,687.6 L1039.8,686.8 L1039.8,686 L1039.7,685.2 L1039.6,684.4 L1039.6,683.7 L1039.5,682.9 L1039.4,682.1 L1039.4,681.4 L1039.3,680.6 L1039.3,679.9 L1039.2,679.2 L1039.2,678.5 L1039.2,677.9 L1039.2,677.2 L1039.2,676.6 L1039.2,676.1 L1039.2,675.5 L1039.2,675 L1039.2,674.6 L1039.3,674.2 L1039.4,673.8 L1039.4,673.4 L1039.5,673.1 L1039.6,672.9 L1039.8,672.7 L1039.9,672.5 L1040.1,672.4 L1040.2,672.4 L1040.4,672.3 L1040.6,672.4 L1040.9,672.5 L1041.1,672.6 L1041.4,672.8 L1041.6,673 L1041.9,673.3 L1042.2,673.6 L1042.5,673.9 L1042.9,674.3 L1043.2,674.8 L1043.6,675.3 L1043.9,675.8 L1044.3,676.3 L1044.7,676.9 L1045.1,677.6 L1045.6,678.2 L1046,678.9 L1046.4,679.6 L1046.9,680.4 L1047.3,681.1 L1047.8,681.9 L1048.3,682.7 L1048.7,683.5 L1049.2,684.3 L1049.7,685.1 L1050.2,685.9 L1050.6,686.7 L1051.1,687.6 L1051.6,688.4 L1052.1,689.2 L1052.5,690 L1053,690.7 L1053.4,691.5 L1053.9,692.3 L1054.3,693 L1054.8,693.7 L1055.2,694.3 L1055.6,695 L1056,695.6 L1056.4,696.2 L1056.8,696.7 L1057.2,697.2 L1057.5,697.6 L1057.9,698.1 L1058.2,698.4 L1058.5,698.8 L1058.8,699.1 L1059.1,699.3 L1059.4,699.5 L1059.6,699.6 L1059.8,699.7 L1060.1,699.8 L1060.3,699.8 L1060.4,699.7 L1060.6,699.6 L1060.7,699.5 L1060.9,699.3 L1061,699 L1061.1,698.7 L1061.2,698.4 L1061.3,698.1 L1061.3,697.6 L1061.3,697.2 L1061.4,696.7 L1061.4,696.2 L1061.4,695.6 L1061.4,695 L1061.4,694.4 L1061.4,693.8 L1061.3,693.1 L1061.3,692.5 L1061.2,691.8 L1061.2,691 L1061.1,690.3 L1061.1,689.6 L1061,688.8 L1061,688.1 L1060.9,687.3 L1060.8,686.6 L1060.8,685.9 L1060.7,685.1 L1060.7,684.4 L1060.6,683.7 L1060.6,683 L1060.5,682.4 L1060.5,681.7 L1060.5,681.1 L1060.5,680.6 L1060.5,680 L1060.5,679.5 L1060.5,679 L1060.6,678.6 L1060.6,678.2 L1060.7,677.8 L1060.8,677.5 L1060.9,677.2 L1061,677 L1061.1,676.8 L1061.3,676.6 L1061.4,676.5 L1061.6,676.5 L1061.8,676.5 L1062,676.5 L1062.2,676.6 L1062.5,676.8 L1062.8,677 L1063,677.2 L1063.3,677.5 L1063.7,677.9 L1064,678.2 L1064.3,678.7 L1064.7,679.1 L1065.1,679.6 L1065.4,680.1 L1065.8,680.7 L1066.3,681.3 L1066.7,681.9 L1067.1,682.6 L1067.5,683.3 L1068,684 L1068.4,684.7 L1068.9,685.5 L1069.4,686.2 L1069.8,687 L1070.3,687.7 L1070.8,688.5 L1071.3,689.3 L1071.7,690.1 L1072.2,690.8 L1072.7,691.6 L1073.1,692.3 L1073.6,693.1 L1074.1,693.8 L1074.5,694.5 L1074.9,695.2 L1075.4,695.8 L1075.8,696.4 L1076.2,697 L1076.6,697.6 L1077,698.1 L1077.4,698.6 L1077.7,699 L1078.1,699.4 L1078.4,699.8 L1078.7,700.1 L1079,700.4 L1079.3,700.6 L1079.5,700.8 L1079.8,700.9 L1080,701 L1080.2,701 L1080.4,701 L1080.6,700.9 L1080.7,700.8 L1080.9,700.6 L1081,700.4 L1081.1,700.2 L1081.2,699.9 L1081.3,699.5 L1081.4,699.1 L1081.4,698.7 L1081.4,698.3 L1081.5,697.8 L1081.5,697.2 L1081.5,696.7 L1081.4,696.1 L1081.4,695.5 L1081.4,694.9 L1081.4,694.2 L1081.3,693.5 L1081.3,692.8 L1081.2,692.2 L1081.2,691.5 L1081.1,690.8 L1081,690 L1081,689.3 L1080.9,688.6 L1080.9,688 L1080.8,687.3 L1080.8,686.6 L1080.7,686 L1080.7,685.4 L1080.7,684.8 L1080.7,684.2 L1080.7,683.6 L1080.7,683.1 L1080.7,682.7 L1080.7,682.2 L1080.8,681.8 L1080.9,681.5 L1080.9,681.1 L1081,680.9 L1081.1,680.6 L1081.3,680.5 L1081.4,680.3 L1081.6,680.2 L1081.8,680.2 L1082,680.2 L1082.2,680.3 L1082.4,680.4 L1082.7,680.5 L1082.9,680.7 L1083.2,681 L1083.5,681.3 L1083.8,681.6 L1084.2,682 L1084.5,682.4 L1084.9,682.8 L1085.3,683.3 L1085.7,683.9 L1086.1,684.4 L1086.5,685 L1086.9,685.6 L1087.4,686.3 L1087.8,687 L1088.3,687.6 L1088.7,688.3 L1089.2,689 L1089.7,689.8 L1090.1,690.5 L1090.6,691.2 L1091.1,691.9 L1091.5,692.6 L1092,693.4 L1092.5,694.1 L1092.9,694.7 L1093.4,695.4 L1093.8,696.1 L1094.3,696.7 L1094.7,697.3 L1095.1,697.9 L1095.5,698.4 L1095.9,698.9 L1096.3,699.4 L1096.6,699.8 L1097,700.2 L1097.3,700.5 L1097.6,700.8 L1097.9,701.1 L1098.2,701.3 L1098.5,701.5 L1098.7,701.6 L1099,701.6 L1099.2,701.7 L1099.4,701.6 L1099.5,701.6 L1099.7,701.4 L1099.8,701.3 L1099.9,701 L1100,700.8 L1100.1,700.5 L1100.2,700.1 L1100.2,699.7 L1100.3,699.3 L1100.3,698.9 L1100.3,698.4 L1100.3,697.8 L1100.3,697.3 L1100.3,696.7 L1100.2,696.1 L1100.2,695.5 L1100.2,694.9 L1100.1,694.3 L1100,693.6 L1100,693 L1099.9,692.4 L1099.9,691.7 L1099.8,691.1 L1099.7,690.5 L1099.7,689.9 L1099.6,689.3 L1099.6,688.7 L1099.6,688.1 L1099.5,687.6 L1099.5,687.1 L1099.5,686.6 L1099.5,686.2 L1099.6,685.8 L1099.6,685.4 L1099.7,685.1 L1099.7,684.8 L1099.8,684.6 L1099.9,684.4 L1100,684.3 L1100.2,684.2 L1100.4,684.1 L1100.5,684.1 L1100.7,684.2 L1101,684.3 L1101.2,684.4 L1101.5,684.6 L1101.7,684.8 L1102,685.1 L1102.4,685.4 L1102.7,685.8 L1103,686.2 L1103.4,686.6 L1103.8,687.1 L1104.2,687.6 L1104.6,688.1 L1105.1,688.7 L1105.5,689.2 L1105.9,689.8 L1106.4,690.4 L1106.9,691.1 L1107.3,691.7 L1107.8,692.4 L1108.3,693 L1108.8,693.7 L1109.3,694.3 L1109.8,694.9 L1110.2,695.6 L1110.7,696.2 L1111.2,696.8 L1111.6,697.4 L1112.1,697.9 L1112.5,698.4 L1113,698.9 L1113.4,699.4 L1113.8,699.8 L1114.1,700.2 L1114.5,700.5 L1114.9,700.8 L1115.2,701.1 L1115.5,701.3 L1115.8,701.5 L1116,701.6 L1116.3,701.7 L1116.5,701.7 L1116.7,701.7 L1116.9,701.7 L1117,701.5 L1117.2,701.4 L1117.3,701.2 L1117.4,700.9 L1117.4,700.7 L1117.5,700.3 L1117.5,700 L1117.5,699.6 L1117.5,699.1 L1117.5,698.7 L1117.5,698.2 L1117.5,697.7 L1117.4,697.1 L1117.4,696.6 L1117.3,696 L1117.2,695.4 L1117.2,694.8 L1117.1,694.2 L1117,693.6 L1116.9,693.1 L1116.9,692.5 L1116.8,691.9 L1116.7,691.4 L1116.7,690.8 L1116.7,690.3 L1116.6,689.8 L1116.6,689.4 L1116.6,688.9 L1116.7,688.6 L1116.7,688.2 L1116.8,687.9 L1116.8,687.6 L1116.9,687.4 L1117.1,687.2 L1117.2,687 L1117.4,686.9 L1117.5,686.9 L1117.7,686.9 L1118,686.9 L1118.2,687 L1118.5,687.1 L1118.8,687.3 L1119.1,687.6 L1119.5,687.8 L1119.8,688.1 L1120.2,688.5 L1120.6,688.9 L1121,689.3 L1121.4,689.8 L1121.8,690.2 L1122.3,690.8 L1122.8,691.3 L1123.2,691.8 L1123.7,692.4 L1124.2,693 L1124.7,693.5 L1125.1,694.1 L1125.6,694.7 L1126.1,695.3 L1126.6,695.9 L1127,696.4 L1127.5,697 L1128,697.5 L1128.4,698 L1128.8,698.4 L1129.3,698.9 L1129.7,699.3 L1130,699.7 L1130.4,700 L1130.8,700.3 L1131.1,700.6 L1131.4,700.8 L1131.7,701 L1131.9,701.1 L1132.2,701.2 L1132.4,701.2 L1132.6,701.2 L1132.8,701.1 L1132.9,701 L1133.1,700.8 L1133.2,700.6 L1133.3,700.3 L1133.3,700 L1133.4,699.7 L1133.4,699.3 L1133.4,698.9 L1133.5,698.5 L1133.4,698 L1133.4,697.5 L1133.4,697 L1133.4,696.4 L1133.3,695.9 L1133.3,695.3 L1133.2,694.7 L1133.1,694.1 L1133.1,693.6 L1133,693 L1133,692.4 L1132.9,691.8 L1132.9,691.3 L1132.9,690.8 L1132.9,690.3 L1132.9,689.8 L1132.9,689.3 L1132.9,688.9 L1132.9,688.6 L1133,688.2 L1133.1,687.9 L1133.2,687.7 L1133.3,687.4 L1133.4,687.3 L1133.6,687.2 L1133.8,687.1 L1134,687.1 L1134.2,687.1 L1134.4,687.2 L1134.7,687.3 L1135,687.4 L1135.3,687.7 L1135.6,687.9 L1136,688.2 L1136.3,688.5 L1136.7,688.9 L1137.1,689.3 L1137.5,689.8 L1138,690.2 L1138.4,690.7 L1138.8,691.2 L1139.3,691.8 L1139.7,692.3 L1140.2,692.9 L1140.7,693.4 L1141.1,694 L1141.6,694.5 L1142,695.1 L1142.5,695.6 L1142.9,696.2 L1143.4,696.7 L1143.8,697.2 L1144.2,697.6 L1144.6,698.1 L1145,698.5 L1145.4,698.8 L1145.7,699.2 L1146.1,699.4 L1146.4,699.7 L1146.7,699.9 L1147,700 L1147.2,700.1 L1147.5,700.2 L1147.7,700.2 L1147.9,700.2 L1148,700.1 L1148.2,699.9 L1148.3,699.8 L1148.4,699.5 L1148.5,699.3 L1148.6,698.9 L1148.7,698.6 L1148.7,698.2 L1148.7,697.8 L1148.7,697.3 L1148.7,696.8 L1148.7,696.3 L1148.7,695.8 L1148.7,695.2 L1148.7,694.7 L1148.6,694.1 L1148.6,693.5 L1148.6,693 L1148.5,692.4 L1148.5,691.8 L1148.5,691.3 L1148.5,690.7 L1148.5,690.2 L1148.5,689.7 L1148.5,689.3 L1148.5,688.8 L1148.6,688.4 L1148.6,688.1 L1148.7,687.8 L1148.8,687.5 L1148.9,687.2 L1149,687 L1149.2,686.9 L1149.4,686.8 L1149.6,686.7 L1149.8,686.7 L1150,686.8 L1150.3,686.9 L1150.5,687 L1150.8,687.2 L1151.2,687.5 L1151.5,687.7 L1151.8,688.1 L1152.2,688.4 L1152.6,688.8 L1153,689.2 L1153.4,689.7 L1153.8,690.2 L1154.2,690.7 L1154.7,691.2 L1155.1,691.7 L1155.5,692.2 L1156,692.8 L1156.4,693.3 L1156.8,693.9 L1157.3,694.4 L1157.7,694.9 L1158.1,695.4 L1158.5,695.9 L1158.9,696.3 L1159.3,696.8 L1159.7,697.2 L1160.1,697.5 L1160.4,697.8 L1160.7,698.1 L1161.1,698.4 L1161.3,698.6 L1161.6,698.7 L1161.9,698.8 L1162.1,698.9 L1162.3,698.9 L1162.5,698.8 L1162.7,698.7 L1162.8,698.6 L1163,698.4 L1163.1,698.1 L1163.2,697.9 L1163.3,697.5 L1163.3,697.2 L1163.4,696.8 L1163.4,696.3 L1163.4,695.9 L1163.5,695.4 L1163.5,694.9 L1163.5,694.3 L1163.5,693.8 L1163.4,693.2 L1163.4,692.7 L1163.4,692.1 L1163.4,691.5 L1163.4,691 L1163.4,690.4 L1163.4,689.9 L1163.4,689.4 L1163.4,688.9 L1163.5,688.5 L1163.5,688 L1163.6,687.6 L1163.7,687.3 L1163.8,687 L1163.9,686.7 L1164,686.5 L1164.1,686.3 L1164.3,686.2 L1164.5,686.1 L1164.7,686.1 L1164.9,686.1 L1165.2,686.1 L1165.4,686.2 L1165.7,686.4 L1166,686.6 L1166.3,686.9 L1166.7,687.2 L1167,687.5 L1167.4,687.9 L1167.7,688.3 L1168.1,688.7 L1168.5,689.1 L1168.9,689.6 L1169.3,690.1 L1169.7,690.6 L1170.2,691.1 L1170.6,691.7 L1171,692.2 L1171.4,692.7 L1171.8,693.2 L1172.2,693.7 L1172.6,694.2 L1173,694.6 L1173.4,695.1 L1173.7,695.5 L1174.1,695.8 L1174.4,696.1 L1174.7,696.4 L1175,696.7 L1175.3,696.9 L1175.6,697 L1175.9,697.1 L1176.1,697.2 L1176.3,697.2 L1176.5,697.1 L1176.7,697 L1176.8,696.9 L1177,696.7 L1177.1,696.4 L1177.2,696.2 L1177.3,695.8 L1177.4,695.5 L1177.4,695.1 L1177.5,694.6 L1177.5,694.1 L1177.6,693.7 L1177.6,693.1 L1177.6,692.6 L1177.6,692.1 L1177.6,691.5 L1177.6,690.9 L1177.7,690.4 L1177.7,689.8 L1177.7,689.3 L1177.7,688.7 L1177.8,688.2 L1177.8,687.8 L1177.8,687.3 L1177.9,686.9 L1178,686.5 L1178.1,686.1 L1178.2,685.8 L1178.3,685.5 L1178.5,685.3 L1178.6,685.1 L1178.8,685 L1179,684.9 L1179.2,684.9 L1179.4,684.9 L1179.7,685 L1179.9,685.1 L1180.2,685.3 L1180.5,685.5 L1180.8,685.7 L1181.1,686 L1181.5,686.4 L1181.8,686.7 L1182.2,687.1 L1182.5,687.5 L1182.9,688 L1183.3,688.4 L1183.7,688.9 L1184.1,689.4 L1184.4,689.9 L1184.8,690.4 L1185.2,690.9 L1185.6,691.4 L1186,691.8 L1186.3,692.3 L1186.7,692.7 L1187,693.1 L1187.4,693.5 L1187.7,693.8 L1188,694.1 L1188.3,694.3 L1188.6,694.5 L1188.9,694.7 L1189.1,694.8 L1189.4,694.9 L1189.6,694.9 L1189.8,694.8 L1190,694.7 L1190.1,694.6 L1190.3,694.4 L1190.4,694.2 L1190.5,693.9 L1190.6,693.5 L1190.7,693.2 L1190.8,692.8 L1190.9,692.3 L1190.9,691.8 L1191,691.3 L1191,690.8 L1191.1,690.3 L1191.1,689.7 L1191.2,689.2 L1191.2,688.6 L1191.2,688 L1191.3,687.5 L1191.3,687 L1191.4,686.4 L1191.4,685.9 L1191.5,685.4 L1191.6,685 L1191.7,684.6 L1191.8,684.2 L1191.9,683.9 L1192,683.6 L1192.2,683.3 L1192.3,683.1 L1192.5,683 L1192.7,682.9 L1192.9,682.8 L1193.1,682.8 L1193.4,682.9 L1193.6,683 L1193.9,683.2 L1194.2,683.4 L1194.5,683.6 L1194.8,683.9 L1195.1,684.2 L1195.4,684.6 L1195.7,684.9 L1196.1,685.3 L1196.4,685.8 L1196.8,686.2 L1197.1,686.7 L1197.5,687.1 L1197.8,687.6 L1198.2,688 L1198.5,688.5 L1198.9,688.9 L1199.2,689.3 L1199.5,689.7 L1199.9,690.1 L1200.2,690.4 L1200.5,690.7 L1200.8,691 L1201,691.2 L1201.3,691.3 L1201.5,691.4 L1201.8,691.5 L1202,691.5 L1202.2,691.5 L1202.4,691.4 L1202.5,691.3 L1202.7,691.1 L1202.9,690.9 L1203,690.6 L1203.1,690.3 L1203.2,689.9 L1203.3,689.5 L1203.4,689 L1203.5,688.6 L1203.6,688.1 L1203.6,687.5 L1203.7,687 L1203.8,686.4 L1203.8,685.8 L1203.9,685.2 L1204,684.7 L1204,684.1 L1204.1,683.5 L1204.2,683 L1204.3,682.5 L1204.4,682 L1204.5,681.5 L1204.6,681.1 L1204.7,680.8 L1204.8,680.4 L1205,680.1 L1205.1,679.9 L1205.3,679.7 L1205.5,679.5 L1205.7,679.5 L1205.9,679.4 L1206.1,679.4 L1206.4,679.5 L1206.6,679.6 L1206.9,679.8 L1207.1,680 L1207.4,680.2 L1207.7,680.5 L1208,680.8 L1208.3,681.1 L1208.6,681.5 L1208.9,681.9 L1209.2,682.3 L1209.5,682.7 L1209.8,683.1 L1210.1,683.6 L1210.4,684 L1210.7,684.4 L1211,684.8 L1211.3,685.1 L1211.6,685.5 L1211.8,685.8 L1212.1,686.1 L1212.4,686.3 L1212.6,686.5 L1212.8,686.7 L1213.1,686.8 L1213.3,686.8 L1213.5,686.8 L1213.7,686.7 L1213.9,686.6 L1214,686.5 L1214.2,686.3 L1214.3,686 L1214.5,685.7 L1214.6,685.4 L1214.7,685 L1214.9,684.5 L1215,684.1 L1215.1,683.6 L1215.2,683 L1215.3,682.5 L1215.4,681.9 L1215.5,681.4 L1215.6,680.8 L1215.7,680.2 L1215.8,679.6 L1215.9,679.1 L1216,678.5 L1216.1,678 L1216.2,677.5 L1216.4,677.1 L1216.5,676.6 L1216.6,676.3 L1216.8,675.9 L1217,675.6 L1217.1,675.4 L1217.3,675.2 L1217.5,675.1 L1217.7,675 L1217.9,675 L1218.1,675 L1218.3,675.1 L1218.6,675.2 L1218.8,675.3 L1219,675.5 L1219.3,675.8 L1219.5,676.1 L1219.8,676.4 L1220.1,676.7 L1220.3,677.1 L1220.6,677.5 L1220.8,677.9 L1221.1,678.3 L1221.3,678.7 L1221.6,679.1 L1221.9,679.4 L1222.1,679.8 L1222.3,680.1 L1222.6,680.5 L1222.8,680.7 L1223,681 L1223.3,681.2 L1223.5,681.3 L1223.7,681.4 L1223.9,681.5 L1224.1,681.5 L1224.3,681.4 L1224.4,681.3 L1224.6,681.2 L1224.8,681 L1225,680.7 L1225.1,680.4 L1225.3,680.1 L1225.4,679.7 L1225.6,679.3 L1225.7,678.8 L1225.9,678.3 L1226,677.8 L1226.2,677.3 L1226.3,676.7 L1226.5,676.2 L1226.6,675.6 L1226.7,675 L1226.9,674.5 L1227.1,674 L1227.2,673.4 L1227.4,673 L1227.5,672.5 L1227.7,672.1 L1227.9,671.7 L1228.1,671.4 L1228.2,671.1 L1228.4,670.9 L1228.6,670.7 L1228.8,670.6 L1229,670.5 L1229.2,670.5 L1229.4,670.5 L1229.6,670.6 L1229.9,670.8 L1230.1,670.9 L1230.3,671.2 L1230.5,671.4 L1230.7,671.7 L1231,672.1 L1231.2,672.4 L1231.4,672.8 L1231.6,673.2 L1231.8,673.6 L1232,673.9 L1232.3,674.3 L1232.5,674.7 L1232.7,675.1 L1232.9,675.4 L1233.1,675.7 L1233.3,676 L1233.5,676.2 L1233.7,676.4 L1233.9,676.6 L1234.1,676.7 L1234.3,676.8 L1234.5,676.8 L1234.7,676.7 L1234.9,676.6 L1235,676.5 L1235.2,676.3 L1235.4,676 L1235.6,675.7 L1235.8,675.4 L1236,675 L1236.2,674.6 L1236.3,674.1 L1236.5,673.6 L1236.7,673.1 L1236.9,672.6 L1237.1,672 L1237.3,671.5 L1237.5,671 L1237.7,670.4 L1237.9,669.9 L1238.1,669.4 L1238.3,669 L1238.5,668.5 L1238.7,668.1 L1238.9,667.8 L1239.1,667.4 L1239.3,667.2 L1239.5,667 L1239.7,666.8 L1239.9,666.7 L1240.1,666.6 L1240.3,666.6 L1240.5,666.6 L1240.7,666.7 L1240.9,666.9 L1241.1,667.1 L1241.3,667.3 L1241.5,667.6 L1241.6,667.9 L1241.8,668.2 L1242,668.5 L1242.2,668.9 L1242.4,669.3 L1242.6,669.7 L1242.7,670.1 L1242.9,670.4 L1243.1,670.8 L1243.3,671.1 L1243.4,671.5 L1243.6,671.7 L1243.8,672 L1244,672.2 L1244.2,672.4 L1244.3,672.5 L1244.5,672.6 L1244.7,672.6 L1244.9,672.6 L1245.1,672.5 L1245.3,672.4 L1245.5,672.2 L1245.7,671.9 L1245.9,671.6 L1246.1,671.3 L1246.3,670.9 L1246.5,670.5 L1246.7,670.1 L1246.9,669.6 L1247.2,669.1 L1247.4,668.6 L1247.6,668 L1247.8,667.5 L1248.1,667 L1248.3,666.5 L1248.5,666 L1248.8,665.5 L1249,665 L1249.2,664.6 L1249.5,664.2 L1249.7,663.8 L1249.9,663.5 L1250.1,663.3 L1250.3,663.1 L1250.5,662.9 L1250.7,662.8 L1250.9,662.7 L1251.1,662.7 L1251.3,662.8 L1251.5,662.9 L1251.7,663 L1251.9,663.2 L1252,663.4 L1252.2,663.7 L1252.4,664 L1252.5,664.4 L1252.7,664.7 L1252.8,665.1 L1252.9,665.4 L1253.1,665.8 L1253.2,666.2 L1253.4,666.6 L1253.5,666.9 L1253.7,667.2 L1253.8,667.6 L1254,667.8 L1254.1,668.1 L1254.3,668.3 L1254.4,668.4 L1254.6,668.5 L1254.8,668.6 L1254.9,668.6 L1255.1,668.5 L1255.3,668.4 L1255.5,668.2 L1255.7,668 L1256,667.8 L1256.2,667.5 L1256.4,667.1 L1256.6,666.7 L1256.9,666.3 L1257.1,665.9 L1257.4,665.4 L1257.6,664.9 L1257.9,664.4 L1258.2,663.8 L1258.4,663.3 L1258.7,662.8 L1259,662.3 L1259.2,661.8 L1259.5,661.3 L1259.7,660.9 L1260,660.5 L1260.3,660.1 L1260.5,659.8 L1260.7,659.5 L1261,659.3 L1261.2,659.1 L1261.4,658.9 L1261.6,658.8 L1261.8,658.8 L1262,658.8 L1262.1,658.9 L1262.3,659 L1262.5,659.2 L1262.6,659.4 L1262.8,659.7 L1262.9,659.9 L1263,660.3 L1263.1,660.6 L1263.2,660.9 L1263.4,661.3 L1263.5,661.7 L1263.6,662.1 L1263.7,662.4 L1263.8,662.8 L1263.9,663.1 L1264,663.4 L1264.1,663.7 L1264.3,664 L1264.4,664.2 L1264.5,664.3 L1264.7,664.5 L1264.9,664.5 L1265,664.6 L1265.2,664.5 L1265.4,664.5 L1265.6,664.3 L1265.8,664.2 L1266,663.9 L1266.3,663.6 L1266.5,663.3 L1266.8,662.9 L1267,662.5 L1267.3,662.1 L1267.6,661.6 L1267.9,661.2 L1268.2,660.7 L1268.5,660.1 L1268.8,659.6 L1269.1,659.1 L1269.4,658.6 L1269.7,658.1 L1269.9,657.6 L1270.2,657.2 L1270.5,656.8 L1270.8,656.4 L1271.1,656 L1271.3,655.7 L1271.6,655.5 L1271.8,655.2 L1272,655.1 L1272.2,655 L1272.4,654.9 L1272.6,654.9 L1272.8,655 L1272.9,655 L1273.1,655.2 L1273.2,655.4 L1273.3,655.6 L1273.4,655.9 L1273.5,656.1 L1273.6,656.5 L1273.7,656.8 L1273.8,657.2 L1273.9,657.5 L1274,657.9 L1274,658.3 L1274.1,658.6 L1274.2,658.9 L1274.3,659.3 L1274.4,659.6 L1274.5,659.8 L1274.6,660.1 L1274.7,660.2 L1274.8,660.4 L1274.9,660.5 L1275.1,660.5 L1275.3,660.5 L1275.5,660.5" fill="none" stroke="#d4d2d7" stroke-width="2.0" opacity="0.85"/>
<g clip-path="url(#cFront)"><path d="M671.3,507.3 L757.3,665.7 L718,655.7 L723,800 L627,800 L624.7,631 L590.4,621 L665.3,509 Z" fill="url(#gSmallUp)"/><path d="M665.3,509 L671.3,507.3 L593,621.5 L590.4,621 Z" fill="#9b9b9b"/><path d="M717,655 L757,665 L755.5,668 L718,659.5 Z" fill="#f2f2f2"/></g>
<g clip-path="url(#cBand)"><path d="M627,700 L722,700 L723,800 L627,800 Z" fill="#7e7b81" opacity="0.4"/></g>
<path d="M703,777 L723,770 L724,796 L712,800 Z" fill="#a09c96" opacity="0.7"/>
<g clip-path="url(#cBig)"><path d="M1174.4,363.6 L1179,364.3 L1250.3,498.5 L1245.9,500.7 L1211.8,493 L1143,1185 L1066,1168 L1119,475.4 L1086,468.3 Z" fill="url(#gBigUp)"/><path d="M1174.4,363.6 L1178.5,364.3 L1250.3,498.5 L1247,500 Z" fill="#bdbab6"/></g>
<path d="M164,428 L265.6,450 L648,744 L590,742 L156,435 Z" fill="url(#gBar)"/>
<g clip-path="url(#cBar)"><path d="M271.1,450.8 L650.9,744.1 L639.9,743.7 L250.3,447.9 Z" fill="#9e9e9e" opacity="0.75" filter="url(#fBlur3)"/><path d="M171.3,437.1 L598.1,742.3 L587.1,741.9 L150.5,434.2 Z" fill="#b4b4b4" opacity="0.7" filter="url(#fBlur3)"/><path d="M344.5,546.6 L633.9,757.9 L621.7,757.6 L324.4,544.3 Z" fill="#c2c2c2" opacity="0.55" filter="url(#fBlur3)"/><path d="M475.9,611.7 L667.1,758.7 L639.4,758 L435.3,607.8 Z" fill="#8f8f8f" opacity="0.35" filter="url(#fBlur3)"/></g>
<path d="M342.1,559.2 L589.6,736.2" stroke="#c6c6c6" stroke-width="1" opacity="0.5"/>
<path d="M164,428 L265.6,450 L648,744 L642,744 L262,456 L170,436 Z" fill="#9d9d9d" opacity="0.55"/>
<path d="M170,436 L262,456 L642,744" fill="none" stroke="#b3b3b3" stroke-width="0.8" opacity="0.6"/>
<g stroke="#1a1a1a" stroke-width="1.4">
<line x1="302" y1="779.3" x2="443.6" y2="779.3"/>
<line x1="266" y1="916.2" x2="447.8" y2="916.2"/>
<line x1="285" y1="1037.6" x2="460" y2="1037.6"/>
</g>
</svg>
<div style="position:absolute;left:128.31px;top:317.63px;font-size:28.5px;line-height:1;white-space:nowrap;color:#111">WATERPROOF/SUN-PROOF</div><div style="position:absolute;left:1093.70px;top:317.28px;font-size:28.8px;line-height:1;white-space:nowrap;color:#111">BREATHABLE</div><div style="position:absolute;left:85.76px;top:751.28px;font-size:28.8px;line-height:1;white-space:nowrap;color:#111">OUTER FABRIC</div><div style="position:absolute;left:85.97px;top:893.42px;font-size:29.1px;line-height:1;white-space:nowrap;color:#111">PU COATING</div><div style="position:absolute;left:86.19px;top:1015.45px;font-size:28.95px;line-height:1;white-space:nowrap;color:#111">INSIDE LAYER</div>
</body></html>
